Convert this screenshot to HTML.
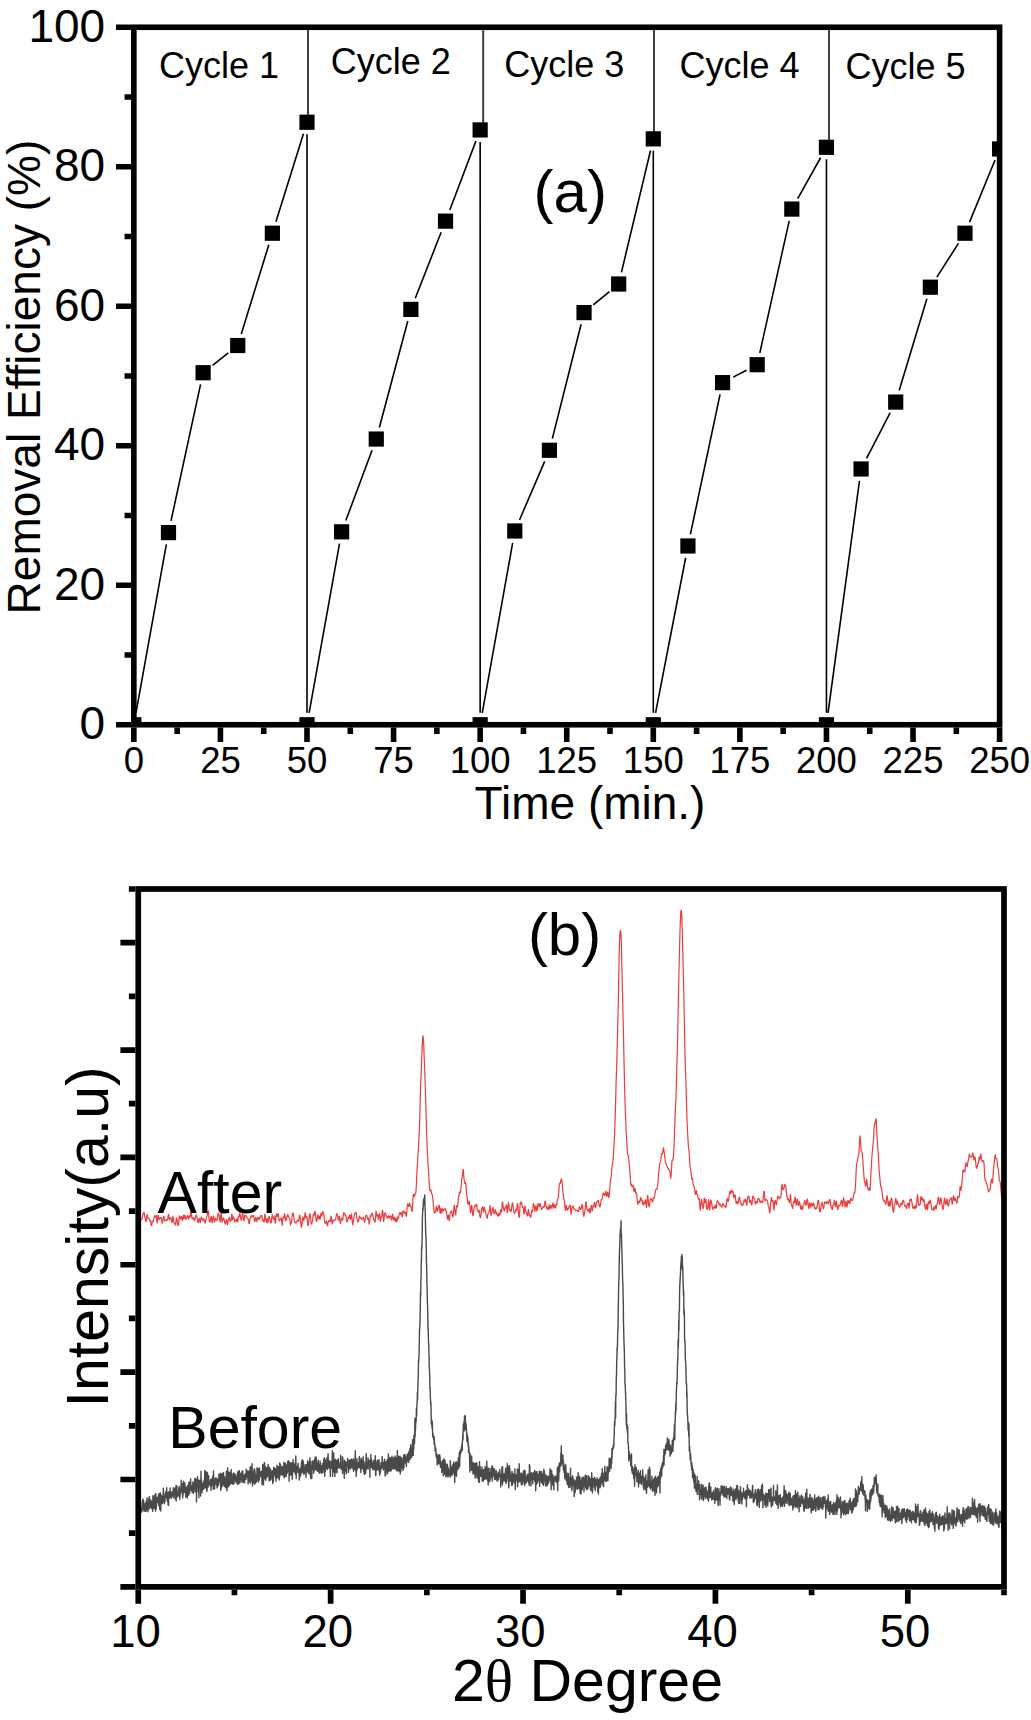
<!DOCTYPE html>
<html><head><meta charset="utf-8"><style>html,body{margin:0;padding:0;background:#fff;}svg{display:block;}</style></head>
<body>
<svg width="1031" height="1720" viewBox="0 0 1031 1720">
<rect width="100%" height="100%" fill="#fff"/>
<defs>
<clipPath id="ca"><rect x="133.85" y="27.25" width="865.75" height="697.5"/></clipPath>
<clipPath id="cb"><rect x="138.25" y="889.0" width="865.75" height="697.8499999999999"/></clipPath>
</defs>
<g clip-path="url(#ca)">
<line x1="308.0" y1="27.25" x2="308.0" y2="128.25" stroke="#404040" stroke-width="2"/>
<line x1="483.2" y1="27.25" x2="483.2" y2="135.92" stroke="#404040" stroke-width="2"/>
<line x1="654.0" y1="27.25" x2="654.0" y2="144.85" stroke="#404040" stroke-width="2"/>
<line x1="829.0" y1="27.25" x2="829.0" y2="153.29" stroke="#404040" stroke-width="2"/>
<path d="M135.98 712.94L166.35 544.40M171.02 520.86L200.57 384.45M212.55 365.31L228.30 352.93M241.28 334.05L268.83 244.69M275.94 221.77L303.43 133.70M307.00 134.25L307.00 712.75M309.12 712.94L339.51 543.63M345.83 520.58L372.06 450.30M379.36 427.46L407.79 320.98M415.27 298.22L441.14 232.33M449.78 209.94L475.89 141.14M480.15 141.92L480.15 712.75M482.26 712.94L512.67 542.80M519.51 519.96L544.68 461.31M552.34 438.65L581.11 324.23M593.29 304.96L609.42 291.64M621.45 272.33L650.52 150.52M653.30 150.85L653.30 712.75M655.58 712.97L685.65 557.76M690.42 534.24L720.07 394.37M733.22 377.11L746.53 370.22M759.80 352.99L789.21 220.80M797.69 198.62L820.58 157.76M826.45 159.29L826.45 712.75M828.06 712.86L859.47 480.87M866.60 458.32L890.19 412.74M899.17 390.60L926.88 298.70M936.82 277.11L958.49 243.32M969.53 222.12L995.04 160.06" stroke="#000" stroke-width="1.6" fill="none"/>
<rect x="126.25" y="717.15" width="15.2" height="15.2" fill="#000"/>
<rect x="160.88" y="524.99" width="15.2" height="15.2" fill="#000"/>
<rect x="195.51" y="365.12" width="15.2" height="15.2" fill="#000"/>
<rect x="230.14" y="337.92" width="15.2" height="15.2" fill="#000"/>
<rect x="264.77" y="225.62" width="15.2" height="15.2" fill="#000"/>
<rect x="299.40" y="114.65" width="15.2" height="15.2" fill="#000"/>
<rect x="299.40" y="717.15" width="15.2" height="15.2" fill="#000"/>
<rect x="334.03" y="524.22" width="15.2" height="15.2" fill="#000"/>
<rect x="368.66" y="431.45" width="15.2" height="15.2" fill="#000"/>
<rect x="403.29" y="301.79" width="15.2" height="15.2" fill="#000"/>
<rect x="437.92" y="213.55" width="15.2" height="15.2" fill="#000"/>
<rect x="472.55" y="122.32" width="15.2" height="15.2" fill="#000"/>
<rect x="472.55" y="717.15" width="15.2" height="15.2" fill="#000"/>
<rect x="507.18" y="523.38" width="15.2" height="15.2" fill="#000"/>
<rect x="541.81" y="442.68" width="15.2" height="15.2" fill="#000"/>
<rect x="576.44" y="305.00" width="15.2" height="15.2" fill="#000"/>
<rect x="611.07" y="276.40" width="15.2" height="15.2" fill="#000"/>
<rect x="645.70" y="131.25" width="15.2" height="15.2" fill="#000"/>
<rect x="645.70" y="717.15" width="15.2" height="15.2" fill="#000"/>
<rect x="680.33" y="538.38" width="15.2" height="15.2" fill="#000"/>
<rect x="714.96" y="375.03" width="15.2" height="15.2" fill="#000"/>
<rect x="749.59" y="357.10" width="15.2" height="15.2" fill="#000"/>
<rect x="784.22" y="201.49" width="15.2" height="15.2" fill="#000"/>
<rect x="818.85" y="139.69" width="15.2" height="15.2" fill="#000"/>
<rect x="818.85" y="717.15" width="15.2" height="15.2" fill="#000"/>
<rect x="853.48" y="461.38" width="15.2" height="15.2" fill="#000"/>
<rect x="888.11" y="394.49" width="15.2" height="15.2" fill="#000"/>
<rect x="922.74" y="279.61" width="15.2" height="15.2" fill="#000"/>
<rect x="957.37" y="225.62" width="15.2" height="15.2" fill="#000"/>
<rect x="992.00" y="141.36" width="15.2" height="15.2" fill="#000"/>
</g>
<rect x="133.85" y="27.25" width="865.75" height="697.50" fill="none" stroke="#000" stroke-width="5.6"/>
<path d="M116.05 724.75H131.05M124.55 655.00H131.05M116.05 585.25H131.05M124.55 515.50H131.05M116.05 445.75H131.05M124.55 376.00H131.05M116.05 306.25H131.05M124.55 236.50H131.05M116.05 166.75H131.05M124.55 97.00H131.05M116.05 27.25H131.05M133.85 727.55V742.05M177.14 727.55V734.05M220.43 727.55V742.05M263.71 727.55V734.05M307.00 727.55V742.05M350.29 727.55V734.05M393.58 727.55V742.05M436.86 727.55V734.05M480.15 727.55V742.05M523.44 727.55V734.05M566.73 727.55V742.05M610.01 727.55V734.05M653.30 727.55V742.05M696.59 727.55V734.05M739.88 727.55V742.05M783.16 727.55V734.05M826.45 727.55V742.05M869.74 727.55V734.05M913.02 727.55V742.05M956.31 727.55V734.05M999.60 727.55V742.05" stroke="#000" stroke-width="5.6" fill="none"/>
<text x="105.2" y="739.05" font-family="Liberation Sans, sans-serif" font-size="46" text-anchor="end">0</text>
<text x="105.2" y="599.55" font-family="Liberation Sans, sans-serif" font-size="46" text-anchor="end">20</text>
<text x="105.2" y="460.05" font-family="Liberation Sans, sans-serif" font-size="46" text-anchor="end">40</text>
<text x="105.2" y="320.55" font-family="Liberation Sans, sans-serif" font-size="46" text-anchor="end">60</text>
<text x="105.2" y="181.05" font-family="Liberation Sans, sans-serif" font-size="46" text-anchor="end">80</text>
<text x="105.2" y="41.55" font-family="Liberation Sans, sans-serif" font-size="46" text-anchor="end">100</text>
<text x="133.85" y="773" font-family="Liberation Sans, sans-serif" font-size="36.5" text-anchor="middle">0</text>
<text x="220.43" y="773" font-family="Liberation Sans, sans-serif" font-size="36.5" text-anchor="middle">25</text>
<text x="307.00" y="773" font-family="Liberation Sans, sans-serif" font-size="36.5" text-anchor="middle">50</text>
<text x="393.58" y="773" font-family="Liberation Sans, sans-serif" font-size="36.5" text-anchor="middle">75</text>
<text x="480.15" y="773" font-family="Liberation Sans, sans-serif" font-size="36.5" text-anchor="middle">100</text>
<text x="566.73" y="773" font-family="Liberation Sans, sans-serif" font-size="36.5" text-anchor="middle">125</text>
<text x="653.30" y="773" font-family="Liberation Sans, sans-serif" font-size="36.5" text-anchor="middle">150</text>
<text x="739.88" y="773" font-family="Liberation Sans, sans-serif" font-size="36.5" text-anchor="middle">175</text>
<text x="826.45" y="773" font-family="Liberation Sans, sans-serif" font-size="36.5" text-anchor="middle">200</text>
<text x="913.02" y="773" font-family="Liberation Sans, sans-serif" font-size="36.5" text-anchor="middle">225</text>
<text x="999.60" y="773" font-family="Liberation Sans, sans-serif" font-size="36.5" text-anchor="middle">250</text>
<text x="474.6" y="819.2" font-family="Liberation Sans, sans-serif" font-size="46">Time (min.)</text>
<text transform="translate(40,614.4) rotate(-90)" font-family="Liberation Sans, sans-serif" font-size="46">Removal Efficiency (%)</text>
<text x="159.1" y="77.7" font-family="Liberation Sans, sans-serif" font-size="36">Cycle 1</text>
<text x="330.8" y="73.7" font-family="Liberation Sans, sans-serif" font-size="36">Cycle 2</text>
<text x="504.3" y="76.9" font-family="Liberation Sans, sans-serif" font-size="36">Cycle 3</text>
<text x="679.6" y="77.6" font-family="Liberation Sans, sans-serif" font-size="36">Cycle 4</text>
<text x="845.6" y="78.5" font-family="Liberation Sans, sans-serif" font-size="36">Cycle 5</text>
<text x="533.6" y="212" font-family="Liberation Sans, sans-serif" font-size="60">(a)</text>
<g clip-path="url(#cb)">
<polyline points="138.2,1510.0 138.4,1516.0 138.6,1515.3 138.8,1507.3 139.0,1508.2 139.2,1507.0 139.4,1512.0 139.6,1509.0 139.8,1512.6 140.0,1500.6 140.2,1516.2 140.4,1508.4 140.6,1511.9 140.8,1508.1 140.9,1506.9 141.1,1510.7 141.3,1512.2 141.5,1507.4 141.7,1507.6 141.9,1511.3 142.1,1504.1 142.3,1501.0 142.5,1509.7 142.7,1504.7 142.9,1498.9 143.1,1503.9 143.3,1505.4 143.4,1502.0 143.6,1500.5 143.8,1507.4 144.0,1511.3 144.2,1506.0 144.4,1503.6 144.6,1508.7 144.8,1510.1 145.0,1505.3 145.2,1509.1 145.4,1511.3 145.6,1505.5 145.8,1502.6 145.9,1507.9 146.1,1507.3 146.3,1511.1 146.5,1500.1 146.7,1502.9 146.9,1502.0 147.1,1497.8 147.3,1506.2 147.5,1508.0 147.7,1502.1 147.9,1511.7 148.1,1509.1 148.3,1508.1 148.4,1507.0 148.6,1509.4 148.8,1498.8 149.0,1507.7 149.2,1507.5 149.4,1496.5 149.6,1506.2 149.8,1503.3 150.0,1508.0 150.2,1502.3 150.4,1504.1 150.6,1505.7 150.8,1500.0 150.9,1506.7 151.1,1503.4 151.3,1506.0 151.5,1501.3 151.7,1508.6 151.9,1506.3 152.1,1502.6 152.3,1506.2 152.5,1509.0 152.7,1511.4 152.9,1495.8 153.1,1507.0 153.3,1505.0 153.4,1502.3 153.6,1498.0 153.8,1508.4 154.0,1496.7 154.2,1505.0 154.4,1508.3 154.6,1494.9 154.8,1500.7 155.0,1496.0 155.2,1503.1 155.4,1508.8 155.6,1511.1 155.8,1493.5 155.9,1498.9 156.1,1504.7 156.3,1508.7 156.5,1503.3 156.7,1497.8 156.9,1502.5 157.1,1501.0 157.3,1500.0 157.5,1497.5 157.7,1502.6 157.9,1502.1 158.1,1500.2 158.3,1499.5 158.5,1494.5 158.6,1498.1 158.8,1505.8 159.0,1499.3 159.2,1493.4 159.4,1506.1 159.6,1502.3 159.8,1509.5 160.0,1500.0 160.2,1497.5 160.4,1492.9 160.6,1505.5 160.8,1511.1 161.0,1495.5 161.1,1496.2 161.3,1501.8 161.5,1495.2 161.7,1497.6 161.9,1497.2 162.1,1499.6 162.3,1503.6 162.5,1498.6 162.7,1502.7 162.9,1496.4 163.1,1499.8 163.3,1488.3 163.5,1491.4 163.6,1501.6 163.8,1495.2 164.0,1500.5 164.2,1500.2 164.4,1503.7 164.6,1501.3 164.8,1502.1 165.0,1496.8 165.2,1494.0 165.4,1493.8 165.6,1494.8 165.8,1491.8 166.0,1494.4 166.1,1496.4 166.3,1497.9 166.5,1495.1 166.7,1487.7 166.9,1496.1 167.1,1497.4 167.3,1501.3 167.5,1498.8 167.7,1493.1 167.9,1492.7 168.1,1505.1 168.3,1499.3 168.5,1504.1 168.6,1505.4 168.8,1491.8 169.0,1497.2 169.2,1497.5 169.4,1497.8 169.6,1497.7 169.8,1496.0 170.0,1495.8 170.2,1488.0 170.4,1494.1 170.6,1491.4 170.8,1495.3 171.0,1492.5 171.1,1497.4 171.3,1498.3 171.5,1495.9 171.7,1495.8 171.9,1494.7 172.1,1492.2 172.3,1493.4 172.5,1491.8 172.7,1495.8 172.9,1494.0 173.1,1496.5 173.3,1487.7 173.5,1497.8 173.6,1490.2 173.8,1490.2 174.0,1492.6 174.2,1490.9 174.4,1494.7 174.6,1490.7 174.8,1488.3 175.0,1489.3 175.2,1499.1 175.4,1493.2 175.6,1487.6 175.8,1492.9 176.0,1485.7 176.2,1501.0 176.3,1485.7 176.5,1494.8 176.7,1495.0 176.9,1485.8 177.1,1493.8 177.3,1496.9 177.5,1494.4 177.7,1493.4 177.9,1496.5 178.1,1492.8 178.3,1493.5 178.5,1491.3 178.7,1494.7 178.8,1487.4 179.0,1495.3 179.2,1489.3 179.4,1486.5 179.6,1493.2 179.8,1499.2 180.0,1495.8 180.2,1488.9 180.4,1494.4 180.6,1489.0 180.8,1490.5 181.0,1491.4 181.2,1480.3 181.3,1491.7 181.5,1486.0 181.7,1487.5 181.9,1483.9 182.1,1483.6 182.3,1486.2 182.5,1494.2 182.7,1498.0 182.9,1490.2 183.1,1495.2 183.3,1488.9 183.5,1481.3 183.7,1490.7 183.8,1492.0 184.0,1487.9 184.2,1491.2 184.4,1492.3 184.6,1485.7 184.8,1482.8 185.0,1488.5 185.2,1488.5 185.4,1487.7 185.6,1493.8 185.8,1497.2 186.0,1487.2 186.2,1492.3 186.3,1493.3 186.5,1492.2 186.7,1493.7 186.9,1487.0 187.1,1492.1 187.3,1498.0 187.5,1492.3 187.7,1485.7 187.9,1491.2 188.1,1494.2 188.3,1490.0 188.5,1485.6 188.7,1495.3 188.8,1482.3 189.0,1490.3 189.2,1487.9 189.4,1482.4 189.6,1493.4 189.8,1489.3 190.0,1482.3 190.2,1490.4 190.4,1485.5 190.6,1478.7 190.8,1484.2 191.0,1488.5 191.2,1490.2 191.3,1487.9 191.5,1487.3 191.7,1489.2 191.9,1486.0 192.1,1492.3 192.3,1487.5 192.5,1488.1 192.7,1489.2 192.9,1481.7 193.1,1483.3 193.3,1493.5 193.5,1487.9 193.7,1485.0 193.9,1487.8 194.0,1484.0 194.2,1487.4 194.4,1483.0 194.6,1487.2 194.8,1478.7 195.0,1491.9 195.2,1483.4 195.4,1478.4 195.6,1484.6 195.8,1483.8 196.0,1486.2 196.2,1480.1 196.4,1487.2 196.5,1501.9 196.7,1479.3 196.9,1486.7 197.1,1483.6 197.3,1485.9 197.5,1476.6 197.7,1479.6 197.9,1486.9 198.1,1484.5 198.3,1492.1 198.5,1481.3 198.7,1485.3 198.9,1497.8 199.0,1480.8 199.2,1480.1 199.4,1484.0 199.6,1483.9 199.8,1487.9 200.0,1484.6 200.2,1480.5 200.4,1484.9 200.6,1496.0 200.8,1489.7 201.0,1471.1 201.2,1483.2 201.4,1479.8 201.5,1486.6 201.7,1482.9 201.9,1492.6 202.1,1487.9 202.3,1487.7 202.5,1484.5 202.7,1483.4 202.9,1485.1 203.1,1489.5 203.3,1485.9 203.5,1481.8 203.7,1489.3 203.9,1484.3 204.0,1483.0 204.2,1479.7 204.4,1480.7 204.6,1480.3 204.8,1470.4 205.0,1487.9 205.2,1485.8 205.4,1482.2 205.6,1487.9 205.8,1485.1 206.0,1484.8 206.2,1471.6 206.4,1481.9 206.5,1485.4 206.7,1490.3 206.9,1491.4 207.1,1489.4 207.3,1477.5 207.5,1472.7 207.7,1485.4 207.9,1482.9 208.1,1487.1 208.3,1482.1 208.5,1483.7 208.7,1475.7 208.9,1484.6 209.0,1480.5 209.2,1484.1 209.4,1484.6 209.6,1481.9 209.8,1483.9 210.0,1482.3 210.2,1485.9 210.4,1484.6 210.6,1479.8 210.8,1479.6 211.0,1490.3 211.2,1481.7 211.4,1486.7 211.6,1484.0 211.7,1479.5 211.9,1478.7 212.1,1482.6 212.3,1483.2 212.5,1484.8 212.7,1476.1 212.9,1479.2 213.1,1481.5 213.3,1489.2 213.5,1471.0 213.7,1483.8 213.9,1479.3 214.1,1483.7 214.2,1479.5 214.4,1483.4 214.6,1488.9 214.8,1483.3 215.0,1483.6 215.2,1483.3 215.4,1478.1 215.6,1484.0 215.8,1480.5 216.0,1477.7 216.2,1481.2 216.4,1480.3 216.6,1484.8 216.7,1481.1 216.9,1478.9 217.1,1488.0 217.3,1485.8 217.5,1487.0 217.7,1484.0 217.9,1480.6 218.1,1479.2 218.3,1479.8 218.5,1485.4 218.7,1481.5 218.9,1474.2 219.1,1480.8 219.2,1474.4 219.4,1481.7 219.6,1475.3 219.8,1475.0 220.0,1481.3 220.2,1480.4 220.4,1473.1 220.6,1484.1 220.8,1490.6 221.0,1473.8 221.2,1489.0 221.4,1477.4 221.6,1478.3 221.7,1479.7 221.9,1473.9 222.1,1486.4 222.3,1482.7 222.5,1476.9 222.7,1479.1 222.9,1473.4 223.1,1478.7 223.3,1484.6 223.5,1472.4 223.7,1478.2 223.9,1480.9 224.1,1485.0 224.2,1486.3 224.4,1478.0 224.6,1476.7 224.8,1482.1 225.0,1478.3 225.2,1478.5 225.4,1484.9 225.6,1487.7 225.8,1481.1 226.0,1479.0 226.2,1482.4 226.4,1471.1 226.6,1479.7 226.7,1474.9 226.9,1490.7 227.1,1483.0 227.3,1480.3 227.5,1478.7 227.7,1468.0 227.9,1482.8 228.1,1487.0 228.3,1476.1 228.5,1482.6 228.7,1482.7 228.9,1472.3 229.1,1483.7 229.2,1485.6 229.4,1480.3 229.6,1479.0 229.8,1482.9 230.0,1472.1 230.2,1479.6 230.4,1484.0 230.6,1473.4 230.8,1483.6 231.0,1477.1 231.2,1469.5 231.4,1478.5 231.6,1474.5 231.8,1480.4 231.9,1473.5 232.1,1483.7 232.3,1475.4 232.5,1480.4 232.7,1476.0 232.9,1477.3 233.1,1484.2 233.3,1479.7 233.5,1476.8 233.7,1472.9 233.9,1483.9 234.1,1481.9 234.3,1477.0 234.4,1479.6 234.6,1473.7 234.8,1473.8 235.0,1474.6 235.2,1480.0 235.4,1479.7 235.6,1474.9 235.8,1481.7 236.0,1481.9 236.2,1479.0 236.4,1483.0 236.6,1476.8 236.8,1477.6 236.9,1480.3 237.1,1477.9 237.3,1481.7 237.5,1472.2 237.7,1484.5 237.9,1474.3 238.1,1477.2 238.3,1471.5 238.5,1480.6 238.7,1483.7 238.9,1482.7 239.1,1481.6 239.3,1470.6 239.4,1474.1 239.6,1475.5 239.8,1473.3 240.0,1482.8 240.2,1478.4 240.4,1477.4 240.6,1479.7 240.8,1473.1 241.0,1473.3 241.2,1473.4 241.4,1479.7 241.6,1478.9 241.8,1480.0 241.9,1482.2 242.1,1471.0 242.3,1474.7 242.5,1477.9 242.7,1471.0 242.9,1474.7 243.1,1481.8 243.3,1482.1 243.5,1482.0 243.7,1477.2 243.9,1476.0 244.1,1481.9 244.3,1475.2 244.4,1478.4 244.6,1483.0 244.8,1475.1 245.0,1474.0 245.2,1476.7 245.4,1479.5 245.6,1478.9 245.8,1477.4 246.0,1479.2 246.2,1469.3 246.4,1472.6 246.6,1477.3 246.8,1472.3 246.9,1470.3 247.1,1470.9 247.3,1472.2 247.5,1475.6 247.7,1471.7 247.9,1477.4 248.1,1484.1 248.3,1475.6 248.5,1482.1 248.7,1477.5 248.9,1471.0 249.1,1475.0 249.3,1471.6 249.5,1479.6 249.6,1470.8 249.8,1482.1 250.0,1478.7 250.2,1466.7 250.4,1479.5 250.6,1483.0 250.8,1472.2 251.0,1480.4 251.2,1467.5 251.4,1476.9 251.6,1468.1 251.8,1477.9 252.0,1467.5 252.1,1463.6 252.3,1477.4 252.5,1486.1 252.7,1472.8 252.9,1479.4 253.1,1476.0 253.3,1474.0 253.5,1478.3 253.7,1483.0 253.9,1469.7 254.1,1477.9 254.3,1476.9 254.5,1468.7 254.6,1482.7 254.8,1484.2 255.0,1470.8 255.2,1483.2 255.4,1475.4 255.6,1474.4 255.8,1482.0 256.0,1476.1 256.2,1476.5 256.4,1482.0 256.6,1480.9 256.8,1479.0 257.0,1468.5 257.1,1467.6 257.3,1480.0 257.5,1470.5 257.7,1475.5 257.9,1469.8 258.1,1473.9 258.3,1468.8 258.5,1482.1 258.7,1469.9 258.9,1474.0 259.1,1473.7 259.3,1480.1 259.5,1468.0 259.6,1474.3 259.8,1473.5 260.0,1476.8 260.2,1476.5 260.4,1472.2 260.6,1475.4 260.8,1472.6 261.0,1476.4 261.2,1473.7 261.4,1471.2 261.6,1474.0 261.8,1475.8 262.0,1484.5 262.1,1471.8 262.3,1475.4 262.5,1480.7 262.7,1464.4 262.9,1465.9 263.1,1468.4 263.3,1473.4 263.5,1485.1 263.7,1475.6 263.9,1479.3 264.1,1472.7 264.3,1462.4 264.5,1463.1 264.6,1478.3 264.8,1474.5 265.0,1467.6 265.2,1478.7 265.4,1466.5 265.6,1478.7 265.8,1480.2 266.0,1469.9 266.2,1468.3 266.4,1477.3 266.6,1468.3 266.8,1477.3 267.0,1467.8 267.2,1477.0 267.3,1473.7 267.5,1471.2 267.7,1469.1 267.9,1474.2 268.1,1464.4 268.3,1471.8 268.5,1471.2 268.7,1476.1 268.9,1467.2 269.1,1480.8 269.3,1471.5 269.5,1467.7 269.7,1479.2 269.8,1480.5 270.0,1471.9 270.2,1468.7 270.4,1472.8 270.6,1469.5 270.8,1471.3 271.0,1479.8 271.2,1474.4 271.4,1473.3 271.6,1474.2 271.8,1472.3 272.0,1476.4 272.2,1476.5 272.3,1470.7 272.5,1472.9 272.7,1483.5 272.9,1474.3 273.1,1471.5 273.3,1481.7 273.5,1472.3 273.7,1467.2 273.9,1475.3 274.1,1468.0 274.3,1469.8 274.5,1473.6 274.7,1471.5 274.8,1468.5 275.0,1469.5 275.2,1469.3 275.4,1477.3 275.6,1468.6 275.8,1469.3 276.0,1481.2 276.2,1469.3 276.4,1478.6 276.6,1477.8 276.8,1471.0 277.0,1465.2 277.2,1473.8 277.3,1474.7 277.5,1476.1 277.7,1471.9 277.9,1477.1 278.1,1477.9 278.3,1466.6 278.5,1478.0 278.7,1472.2 278.9,1468.8 279.1,1469.9 279.3,1480.0 279.5,1475.8 279.7,1463.0 279.8,1471.6 280.0,1470.6 280.2,1470.4 280.4,1468.8 280.6,1464.4 280.8,1475.0 281.0,1466.7 281.2,1469.3 281.4,1468.2 281.6,1467.6 281.8,1474.3 282.0,1472.7 282.2,1467.8 282.3,1466.5 282.5,1468.7 282.7,1475.2 282.9,1471.3 283.1,1471.8 283.3,1469.2 283.5,1469.5 283.7,1471.6 283.9,1462.1 284.1,1478.0 284.3,1466.9 284.5,1467.9 284.7,1476.6 284.9,1471.5 285.0,1470.6 285.2,1467.7 285.4,1463.2 285.6,1471.2 285.8,1475.8 286.0,1466.1 286.2,1476.5 286.4,1465.0 286.6,1466.8 286.8,1472.5 287.0,1470.1 287.2,1473.2 287.4,1466.6 287.5,1465.3 287.7,1461.4 287.9,1464.4 288.1,1465.0 288.3,1463.3 288.5,1471.3 288.7,1466.8 288.9,1460.7 289.1,1481.2 289.3,1465.9 289.5,1463.9 289.7,1475.4 289.9,1475.0 290.0,1464.3 290.2,1462.8 290.4,1464.9 290.6,1474.7 290.8,1468.0 291.0,1465.7 291.2,1469.3 291.4,1474.9 291.6,1463.0 291.8,1467.6 292.0,1462.9 292.2,1479.2 292.4,1477.6 292.5,1473.6 292.7,1468.6 292.9,1472.2 293.1,1459.4 293.3,1470.3 293.5,1462.9 293.7,1462.9 293.9,1465.7 294.1,1467.3 294.3,1471.6 294.5,1472.1 294.7,1470.1 294.9,1464.5 295.0,1471.9 295.2,1468.2 295.4,1474.2 295.6,1464.5 295.8,1456.0 296.0,1466.5 296.2,1478.5 296.4,1470.7 296.6,1467.7 296.8,1472.6 297.0,1470.8 297.2,1470.6 297.4,1466.1 297.5,1468.7 297.7,1469.3 297.9,1465.4 298.1,1463.2 298.3,1468.9 298.5,1472.7 298.7,1471.2 298.9,1470.4 299.1,1470.5 299.3,1480.0 299.5,1469.3 299.7,1472.8 299.9,1477.0 300.0,1468.2 300.2,1469.2 300.4,1472.8 300.6,1475.7 300.8,1469.4 301.0,1469.6 301.2,1468.3 301.4,1462.4 301.6,1473.0 301.8,1466.7 302.0,1460.0 302.2,1467.2 302.4,1459.9 302.6,1463.2 302.7,1467.9 302.9,1463.6 303.1,1472.7 303.3,1461.1 303.5,1469.0 303.7,1470.4 303.9,1474.5 304.1,1472.0 304.3,1468.8 304.5,1468.1 304.7,1467.5 304.9,1473.0 305.1,1464.7 305.2,1470.1 305.4,1467.3 305.6,1468.8 305.8,1466.5 306.0,1477.5 306.2,1464.6 306.4,1468.8 306.6,1468.9 306.8,1470.4 307.0,1469.7 307.2,1469.5 307.4,1472.1 307.6,1460.6 307.7,1467.6 307.9,1461.9 308.1,1468.6 308.3,1462.1 308.5,1463.1 308.7,1467.2 308.9,1473.9 309.1,1470.1 309.3,1468.8 309.5,1473.9 309.7,1463.1 309.9,1457.8 310.1,1465.5 310.2,1466.1 310.4,1473.1 310.6,1477.2 310.8,1461.2 311.0,1478.7 311.2,1474.5 311.4,1471.2 311.6,1469.0 311.8,1478.4 312.0,1467.6 312.2,1465.1 312.4,1467.9 312.6,1460.9 312.7,1469.4 312.9,1466.7 313.1,1468.7 313.3,1468.8 313.5,1462.3 313.7,1473.2 313.9,1462.5 314.1,1471.2 314.3,1459.8 314.5,1468.8 314.7,1463.3 314.9,1467.3 315.1,1464.1 315.2,1457.0 315.4,1461.9 315.6,1467.4 315.8,1469.9 316.0,1460.3 316.2,1457.2 316.4,1463.0 316.6,1466.0 316.8,1464.0 317.0,1463.2 317.2,1470.8 317.4,1471.4 317.6,1470.3 317.7,1462.6 317.9,1467.2 318.1,1466.0 318.3,1460.3 318.5,1470.9 318.7,1467.2 318.9,1464.6 319.1,1473.3 319.3,1470.3 319.5,1470.7 319.7,1472.3 319.9,1470.1 320.1,1460.9 320.2,1464.9 320.4,1471.3 320.6,1463.2 320.8,1466.9 321.0,1468.5 321.2,1473.3 321.4,1472.6 321.6,1470.8 321.8,1465.8 322.0,1470.8 322.2,1469.0 322.4,1465.8 322.6,1472.8 322.8,1468.8 322.9,1463.1 323.1,1472.3 323.3,1465.3 323.5,1469.2 323.7,1459.5 323.9,1466.4 324.1,1462.1 324.3,1462.0 324.5,1457.6 324.7,1476.3 324.9,1465.7 325.1,1467.5 325.3,1471.5 325.4,1465.8 325.6,1468.7 325.8,1460.1 326.0,1467.2 326.2,1464.4 326.4,1468.6 326.6,1467.1 326.8,1459.9 327.0,1457.7 327.2,1461.6 327.4,1469.6 327.6,1468.1 327.8,1468.0 327.9,1456.9 328.1,1453.8 328.3,1463.3 328.5,1464.6 328.7,1463.3 328.9,1467.7 329.1,1465.3 329.3,1460.6 329.5,1462.0 329.7,1466.7 329.9,1466.3 330.1,1465.7 330.3,1476.4 330.4,1464.8 330.6,1466.5 330.8,1461.4 331.0,1464.3 331.2,1468.3 331.4,1468.5 331.6,1465.2 331.8,1467.7 332.0,1466.1 332.2,1457.2 332.4,1450.8 332.6,1476.4 332.8,1469.6 332.9,1465.5 333.1,1457.8 333.3,1459.9 333.5,1472.0 333.7,1452.9 333.9,1464.2 334.1,1469.7 334.3,1466.3 334.5,1469.1 334.7,1465.0 334.9,1476.6 335.1,1460.9 335.3,1459.3 335.4,1466.9 335.6,1472.2 335.8,1465.3 336.0,1470.4 336.2,1463.1 336.4,1460.1 336.6,1471.9 336.8,1472.7 337.0,1472.5 337.2,1463.5 337.4,1460.1 337.6,1460.1 337.8,1464.4 337.9,1468.1 338.1,1467.7 338.3,1458.8 338.5,1466.3 338.7,1465.4 338.9,1465.8 339.1,1465.2 339.3,1464.4 339.5,1468.0 339.7,1465.9 339.9,1466.3 340.1,1462.1 340.3,1467.1 340.5,1464.7 340.6,1455.5 340.8,1467.4 341.0,1464.0 341.2,1469.4 341.4,1464.4 341.6,1464.7 341.8,1466.1 342.0,1465.1 342.2,1463.0 342.4,1456.8 342.6,1473.5 342.8,1457.8 343.0,1463.5 343.1,1468.0 343.3,1466.8 343.5,1467.6 343.7,1468.5 343.9,1470.8 344.1,1466.3 344.3,1478.3 344.5,1460.3 344.7,1466.0 344.9,1463.2 345.1,1462.4 345.3,1466.2 345.5,1471.6 345.6,1461.6 345.8,1461.6 346.0,1468.1 346.2,1467.3 346.4,1473.8 346.6,1469.5 346.8,1465.8 347.0,1463.2 347.2,1465.7 347.4,1463.9 347.6,1458.4 347.8,1464.7 348.0,1463.9 348.1,1463.6 348.3,1462.7 348.5,1472.4 348.7,1467.8 348.9,1468.9 349.1,1461.8 349.3,1459.9 349.5,1463.2 349.7,1465.6 349.9,1462.9 350.1,1463.6 350.3,1468.9 350.5,1465.9 350.6,1460.0 350.8,1462.6 351.0,1461.6 351.2,1465.4 351.4,1459.2 351.6,1463.8 351.8,1467.8 352.0,1464.8 352.2,1460.5 352.4,1461.9 352.6,1465.3 352.8,1466.9 353.0,1468.6 353.1,1464.1 353.3,1458.7 353.5,1471.3 353.7,1466.2 353.9,1466.7 354.1,1466.2 354.3,1460.1 354.5,1463.4 354.7,1466.0 354.9,1469.6 355.1,1465.2 355.3,1450.6 355.5,1463.8 355.6,1466.6 355.8,1470.9 356.0,1468.2 356.2,1476.4 356.4,1471.5 356.6,1471.2 356.8,1469.4 357.0,1458.7 357.2,1468.9 357.4,1467.8 357.6,1462.7 357.8,1467.8 358.0,1467.0 358.2,1463.0 358.3,1464.6 358.5,1463.9 358.7,1466.2 358.9,1463.2 359.1,1467.7 359.3,1456.4 359.5,1463.9 359.7,1457.5 359.9,1463.0 360.1,1467.6 360.3,1465.4 360.5,1464.8 360.7,1465.6 360.8,1472.5 361.0,1460.2 361.2,1469.4 361.4,1458.4 361.6,1463.2 361.8,1466.1 362.0,1461.5 362.2,1466.4 362.4,1468.8 362.6,1459.9 362.8,1465.1 363.0,1463.7 363.2,1456.6 363.3,1464.6 363.5,1461.8 363.7,1471.7 363.9,1461.5 364.1,1473.3 364.3,1463.1 364.5,1474.5 364.7,1468.1 364.9,1467.7 365.1,1469.3 365.3,1469.8 365.5,1472.1 365.7,1473.6 365.8,1464.0 366.0,1459.9 366.2,1453.4 366.4,1463.9 366.6,1469.2 366.8,1467.4 367.0,1466.2 367.2,1464.1 367.4,1462.8 367.6,1464.4 367.8,1467.5 368.0,1457.7 368.2,1469.1 368.3,1459.1 368.5,1465.1 368.7,1462.9 368.9,1464.1 369.1,1461.0 369.3,1460.5 369.5,1464.8 369.7,1460.9 369.9,1477.2 370.1,1463.9 370.3,1462.9 370.5,1463.4 370.7,1461.0 370.8,1454.6 371.0,1464.7 371.2,1467.3 371.4,1459.0 371.6,1466.0 371.8,1460.4 372.0,1465.8 372.2,1467.6 372.4,1468.2 372.6,1468.0 372.8,1462.7 373.0,1470.0 373.2,1463.9 373.3,1467.6 373.5,1469.3 373.7,1464.6 373.9,1460.1 374.1,1468.9 374.3,1460.9 374.5,1462.0 374.7,1461.0 374.9,1469.9 375.1,1465.3 375.3,1455.7 375.5,1469.5 375.7,1475.6 375.9,1474.4 376.0,1463.5 376.2,1466.5 376.4,1468.5 376.6,1470.2 376.8,1466.3 377.0,1461.1 377.2,1469.6 377.4,1469.0 377.6,1460.0 377.8,1464.5 378.0,1467.4 378.2,1466.1 378.4,1468.6 378.5,1469.8 378.7,1468.7 378.9,1465.6 379.1,1460.0 379.3,1469.0 379.5,1472.6 379.7,1475.3 379.9,1466.0 380.1,1466.0 380.3,1472.8 380.5,1472.8 380.7,1467.8 380.9,1469.5 381.0,1462.7 381.2,1468.9 381.4,1462.4 381.6,1465.5 381.8,1465.6 382.0,1464.0 382.2,1456.5 382.4,1462.4 382.6,1467.7 382.8,1465.9 383.0,1464.4 383.2,1468.2 383.4,1469.4 383.5,1470.1 383.7,1462.5 383.9,1466.3 384.1,1464.6 384.3,1462.1 384.5,1459.3 384.7,1465.7 384.9,1462.1 385.1,1476.1 385.3,1465.7 385.5,1465.1 385.7,1464.3 385.9,1474.8 386.0,1461.8 386.2,1465.4 386.4,1462.6 386.6,1465.5 386.8,1465.9 387.0,1471.1 387.2,1459.6 387.4,1466.0 387.6,1473.5 387.8,1463.7 388.0,1465.2 388.2,1462.0 388.4,1454.0 388.5,1465.5 388.7,1471.4 388.9,1463.8 389.1,1457.5 389.3,1467.2 389.5,1466.3 389.7,1470.5 389.9,1470.1 390.1,1464.7 390.3,1467.7 390.5,1457.6 390.7,1471.0 390.9,1466.7 391.0,1470.8 391.2,1470.7 391.4,1464.5 391.6,1465.1 391.8,1461.7 392.0,1456.2 392.2,1465.1 392.4,1466.4 392.6,1460.7 392.8,1468.9 393.0,1466.1 393.2,1467.7 393.4,1462.0 393.6,1457.4 393.7,1469.1 393.9,1468.3 394.1,1464.9 394.3,1463.5 394.5,1464.1 394.7,1464.7 394.9,1463.0 395.1,1456.0 395.3,1468.8 395.5,1458.3 395.7,1463.6 395.9,1463.7 396.1,1466.3 396.2,1457.6 396.4,1470.5 396.6,1468.0 396.8,1468.5 397.0,1470.7 397.2,1461.2 397.4,1450.4 397.6,1466.3 397.8,1470.7 398.0,1470.0 398.2,1462.1 398.4,1464.1 398.6,1465.8 398.7,1456.1 398.9,1461.3 399.1,1461.4 399.3,1471.5 399.5,1461.2 399.7,1471.3 399.9,1464.1 400.1,1456.2 400.3,1474.1 400.5,1459.4 400.7,1466.6 400.9,1471.6 401.1,1461.2 401.2,1457.9 401.4,1468.3 401.6,1463.7 401.8,1457.7 402.0,1458.3 402.2,1461.4 402.4,1467.5 402.6,1461.7 402.8,1465.9 403.0,1470.4 403.2,1468.5 403.4,1469.2 403.6,1468.1 403.7,1454.9 403.9,1467.8 404.1,1463.6 404.3,1461.4 404.5,1456.8 404.7,1454.4 404.9,1456.4 405.1,1461.3 405.3,1455.9 405.5,1457.3 405.7,1458.1 405.9,1463.8 406.1,1459.2 406.2,1459.7 406.4,1466.3 406.6,1458.5 406.8,1462.6 407.0,1454.7 407.2,1460.9 407.4,1459.7 407.6,1459.7 407.8,1456.5 408.0,1453.7 408.2,1456.8 408.4,1455.7 408.6,1462.4 408.7,1461.5 408.9,1451.5 409.1,1459.6 409.3,1454.1 409.5,1458.1 409.7,1453.4 409.9,1448.5 410.1,1459.5 410.3,1456.5 410.5,1448.4 410.7,1444.8 410.9,1450.6 411.1,1447.1 411.2,1450.3 411.4,1454.3 411.6,1457.6 411.8,1448.6 412.0,1455.9 412.2,1454.2 412.4,1446.1 412.6,1439.6 412.8,1450.3 413.0,1448.3 413.2,1455.4 413.4,1450.1 413.6,1446.0 413.8,1449.0 413.9,1435.2 414.1,1439.5 414.3,1435.9 414.5,1443.7 414.7,1436.6 414.9,1418.2 415.1,1436.6 415.3,1424.2 415.5,1429.7 415.7,1421.6 415.9,1422.5 416.1,1421.7 416.3,1416.8 416.4,1408.5 416.6,1416.2 416.8,1408.2 417.0,1402.7 417.2,1402.2 417.4,1392.4 417.6,1399.3 417.8,1387.1 418.0,1383.0 418.2,1377.9 418.4,1366.9 418.6,1360.2 418.8,1360.8 418.9,1355.4 419.1,1353.7 419.3,1343.2 419.5,1329.4 419.7,1329.8 419.9,1324.1 420.1,1317.6 420.3,1307.0 420.5,1292.2 420.7,1295.4 420.9,1278.9 421.1,1277.0 421.3,1259.3 421.4,1262.3 421.6,1247.5 421.8,1248.6 422.0,1244.6 422.2,1235.0 422.4,1217.8 422.6,1212.9 422.8,1207.9 423.0,1210.3 423.2,1204.9 423.4,1200.9 423.6,1199.3 423.8,1199.2 423.9,1199.1 424.1,1204.3 424.3,1197.7 424.5,1201.3 424.7,1195.0 424.9,1201.4 425.1,1209.1 425.3,1212.2 425.5,1224.6 425.7,1234.9 425.9,1235.0 426.1,1242.1 426.3,1249.5 426.4,1260.1 426.6,1264.9 426.8,1277.2 427.0,1284.6 427.2,1292.6 427.4,1302.4 427.6,1306.7 427.8,1314.8 428.0,1329.6 428.2,1328.5 428.4,1339.4 428.6,1342.7 428.8,1346.9 428.9,1353.2 429.1,1357.6 429.3,1367.3 429.5,1370.0 429.7,1376.2 429.9,1388.8 430.1,1387.4 430.3,1397.8 430.5,1398.1 430.7,1405.0 430.9,1402.1 431.1,1409.2 431.3,1424.1 431.5,1419.1 431.6,1423.0 431.8,1422.3 432.0,1427.9 432.2,1421.1 432.4,1424.9 432.6,1433.0 432.8,1436.9 433.0,1433.2 433.2,1436.1 433.4,1437.0 433.6,1439.4 433.8,1436.2 434.0,1436.5 434.1,1444.1 434.3,1437.7 434.5,1442.3 434.7,1444.9 434.9,1444.1 435.1,1451.0 435.3,1448.8 435.5,1451.3 435.7,1447.8 435.9,1449.8 436.1,1456.3 436.3,1456.3 436.5,1453.2 436.6,1457.6 436.8,1457.4 437.0,1457.8 437.2,1465.0 437.4,1456.3 437.6,1460.6 437.8,1461.1 438.0,1458.5 438.2,1454.7 438.4,1463.6 438.6,1462.0 438.8,1461.5 439.0,1461.7 439.1,1462.1 439.3,1458.2 439.5,1464.0 439.7,1454.7 439.9,1463.2 440.1,1456.7 440.3,1462.2 440.5,1467.4 440.7,1463.1 440.9,1462.3 441.1,1467.1 441.3,1463.7 441.5,1463.3 441.6,1463.6 441.8,1472.5 442.0,1468.8 442.2,1468.2 442.4,1460.7 442.6,1469.1 442.8,1460.5 443.0,1468.8 443.2,1461.6 443.4,1475.9 443.6,1459.3 443.8,1472.8 444.0,1471.0 444.1,1459.3 444.3,1466.5 444.5,1474.4 444.7,1473.1 444.9,1460.3 445.1,1465.7 445.3,1462.8 445.5,1463.5 445.7,1465.4 445.9,1476.9 446.1,1469.2 446.3,1467.6 446.5,1467.2 446.6,1471.9 446.8,1472.0 447.0,1464.7 447.2,1475.8 447.4,1464.1 447.6,1467.9 447.8,1471.3 448.0,1477.1 448.2,1467.7 448.4,1470.7 448.6,1475.4 448.8,1472.3 449.0,1474.7 449.2,1474.3 449.3,1470.8 449.5,1472.5 449.7,1473.9 449.9,1469.5 450.1,1477.0 450.3,1460.6 450.5,1465.5 450.7,1476.4 450.9,1471.7 451.1,1466.8 451.3,1471.5 451.5,1474.8 451.7,1467.2 451.8,1473.3 452.0,1469.2 452.2,1469.2 452.4,1469.4 452.6,1474.8 452.8,1464.5 453.0,1468.0 453.2,1472.7 453.4,1464.0 453.6,1462.3 453.8,1472.1 454.0,1469.4 454.2,1468.7 454.3,1470.0 454.5,1464.8 454.7,1482.5 454.9,1464.5 455.1,1467.0 455.3,1462.3 455.5,1466.8 455.7,1475.6 455.9,1468.5 456.1,1471.0 456.3,1465.9 456.5,1476.3 456.7,1468.5 456.8,1461.7 457.0,1470.8 457.2,1465.3 457.4,1469.4 457.6,1467.0 457.8,1467.2 458.0,1466.2 458.2,1461.0 458.4,1457.8 458.6,1468.6 458.8,1463.0 459.0,1464.3 459.2,1460.2 459.3,1452.3 459.5,1455.0 459.7,1466.4 459.9,1455.5 460.1,1456.4 460.3,1450.3 460.5,1453.5 460.7,1453.0 460.9,1452.5 461.1,1451.8 461.3,1447.8 461.5,1446.6 461.7,1447.6 461.8,1447.5 462.0,1443.6 462.2,1450.5 462.4,1441.7 462.6,1439.6 462.8,1434.0 463.0,1439.8 463.2,1428.5 463.4,1424.0 463.6,1425.2 463.8,1430.8 464.0,1421.2 464.2,1431.0 464.3,1423.8 464.5,1416.0 464.7,1421.2 464.9,1430.0 465.1,1417.7 465.3,1415.8 465.5,1424.6 465.7,1429.0 465.9,1428.7 466.1,1423.7 466.3,1427.5 466.5,1429.7 466.7,1435.3 466.9,1441.5 467.0,1433.0 467.2,1441.4 467.4,1435.8 467.6,1442.0 467.8,1436.8 468.0,1439.5 468.2,1446.7 468.4,1442.4 468.6,1452.3 468.8,1447.3 469.0,1451.7 469.2,1452.4 469.4,1452.6 469.5,1456.1 469.7,1461.7 469.9,1472.1 470.1,1453.5 470.3,1461.3 470.5,1460.1 470.7,1457.6 470.9,1463.9 471.1,1459.3 471.3,1463.7 471.5,1470.4 471.7,1456.0 471.9,1466.9 472.0,1468.4 472.2,1462.4 472.4,1469.6 472.6,1469.2 472.8,1466.4 473.0,1473.9 473.2,1462.6 473.4,1471.9 473.6,1468.1 473.8,1464.6 474.0,1468.9 474.2,1468.3 474.4,1473.9 474.5,1463.4 474.7,1469.6 474.9,1468.5 475.1,1478.0 475.3,1465.8 475.5,1475.9 475.7,1463.1 475.9,1472.9 476.1,1470.8 476.3,1473.3 476.5,1468.4 476.7,1462.8 476.9,1464.7 477.0,1478.0 477.2,1473.0 477.4,1468.1 477.6,1476.3 477.8,1468.8 478.0,1468.9 478.2,1466.8 478.4,1477.9 478.6,1481.6 478.8,1468.2 479.0,1474.0 479.2,1477.2 479.4,1482.5 479.5,1461.8 479.7,1473.5 479.9,1475.9 480.1,1466.2 480.3,1474.9 480.5,1474.0 480.7,1476.4 480.9,1470.5 481.1,1475.1 481.3,1470.4 481.5,1476.0 481.7,1474.0 481.9,1471.6 482.0,1466.9 482.2,1481.0 482.4,1478.5 482.6,1477.5 482.8,1470.4 483.0,1471.9 483.2,1481.2 483.4,1477.0 483.6,1469.7 483.8,1473.9 484.0,1474.3 484.2,1472.8 484.4,1469.4 484.5,1479.5 484.7,1476.5 484.9,1472.9 485.1,1466.6 485.3,1471.2 485.5,1473.9 485.7,1477.9 485.9,1472.2 486.1,1479.0 486.3,1474.6 486.5,1470.6 486.7,1461.2 486.9,1468.6 487.1,1467.2 487.2,1473.4 487.4,1475.6 487.6,1480.5 487.8,1474.1 488.0,1468.8 488.2,1485.0 488.4,1475.6 488.6,1473.0 488.8,1473.0 489.0,1468.0 489.2,1477.2 489.4,1476.0 489.6,1481.6 489.7,1479.4 489.9,1478.3 490.1,1480.1 490.3,1473.1 490.5,1472.3 490.7,1474.2 490.9,1468.7 491.1,1473.8 491.3,1472.9 491.5,1477.5 491.7,1474.4 491.9,1465.7 492.1,1474.6 492.2,1481.0 492.4,1466.1 492.6,1471.0 492.8,1474.6 493.0,1468.5 493.2,1472.0 493.4,1474.8 493.6,1468.5 493.8,1475.9 494.0,1476.5 494.2,1468.8 494.4,1474.8 494.6,1479.6 494.7,1473.8 494.9,1476.7 495.1,1477.6 495.3,1473.6 495.5,1479.2 495.7,1476.5 495.9,1470.2 496.1,1477.1 496.3,1478.7 496.5,1478.4 496.7,1471.8 496.9,1476.9 497.1,1481.1 497.2,1475.8 497.4,1480.2 497.6,1480.8 497.8,1474.6 498.0,1477.9 498.2,1473.5 498.4,1479.7 498.6,1474.4 498.8,1472.3 499.0,1474.7 499.2,1474.5 499.4,1476.6 499.6,1477.0 499.7,1469.5 499.9,1471.9 500.1,1476.6 500.3,1477.1 500.5,1475.3 500.7,1487.1 500.9,1480.1 501.1,1474.7 501.3,1478.4 501.5,1481.2 501.7,1476.8 501.9,1467.1 502.1,1475.6 502.2,1475.4 502.4,1485.0 502.6,1466.8 502.8,1482.4 503.0,1474.6 503.2,1479.6 503.4,1474.0 503.6,1476.2 503.8,1480.6 504.0,1475.8 504.2,1480.3 504.4,1475.1 504.6,1473.6 504.8,1474.5 504.9,1473.2 505.1,1475.0 505.3,1481.8 505.5,1470.2 505.7,1468.0 505.9,1475.6 506.1,1483.4 506.3,1480.5 506.5,1481.8 506.7,1481.5 506.9,1472.4 507.1,1476.3 507.3,1463.6 507.4,1473.0 507.6,1478.6 507.8,1468.7 508.0,1466.4 508.2,1469.9 508.4,1476.9 508.6,1481.3 508.8,1487.9 509.0,1482.6 509.2,1469.1 509.4,1465.4 509.6,1476.8 509.8,1481.0 509.9,1468.7 510.1,1473.8 510.3,1474.1 510.5,1476.4 510.7,1475.4 510.9,1478.7 511.1,1481.2 511.3,1476.7 511.5,1479.8 511.7,1485.5 511.9,1471.7 512.1,1471.6 512.3,1478.8 512.4,1485.0 512.6,1477.3 512.8,1481.6 513.0,1475.1 513.2,1480.8 513.4,1473.7 513.6,1479.7 513.8,1478.5 514.0,1478.5 514.2,1483.0 514.4,1481.6 514.6,1474.0 514.8,1480.9 514.9,1469.0 515.1,1481.4 515.3,1489.5 515.5,1479.3 515.7,1479.3 515.9,1477.2 516.1,1480.8 516.3,1474.9 516.5,1480.1 516.7,1475.8 516.9,1475.1 517.1,1477.7 517.3,1476.9 517.4,1469.2 517.6,1486.7 517.8,1477.9 518.0,1469.4 518.2,1482.2 518.4,1477.1 518.6,1478.2 518.8,1480.6 519.0,1473.2 519.2,1463.8 519.4,1476.9 519.6,1478.5 519.8,1482.0 519.9,1473.9 520.1,1476.2 520.3,1479.3 520.5,1476.0 520.7,1476.3 520.9,1478.7 521.1,1472.9 521.3,1484.8 521.5,1473.3 521.7,1477.7 521.9,1476.0 522.1,1474.3 522.3,1480.0 522.5,1482.2 522.6,1484.3 522.8,1480.3 523.0,1475.6 523.2,1481.6 523.4,1471.0 523.6,1477.9 523.8,1480.1 524.0,1480.3 524.2,1472.4 524.4,1470.8 524.6,1485.4 524.8,1475.4 525.0,1470.2 525.1,1472.0 525.3,1477.8 525.5,1483.2 525.7,1477.7 525.9,1483.3 526.1,1478.8 526.3,1479.9 526.5,1482.3 526.7,1476.1 526.9,1479.2 527.1,1476.0 527.3,1474.9 527.5,1480.8 527.6,1474.1 527.8,1478.2 528.0,1474.2 528.2,1477.4 528.4,1475.4 528.6,1482.9 528.8,1478.2 529.0,1478.2 529.2,1485.5 529.4,1464.6 529.6,1472.7 529.8,1465.3 530.0,1477.8 530.1,1479.9 530.3,1480.8 530.5,1479.1 530.7,1473.9 530.9,1485.9 531.1,1479.3 531.3,1476.7 531.5,1472.7 531.7,1479.8 531.9,1475.7 532.1,1475.8 532.3,1478.9 532.5,1478.9 532.6,1474.2 532.8,1483.7 533.0,1473.3 533.2,1472.8 533.4,1479.4 533.6,1478.6 533.8,1478.3 534.0,1476.1 534.2,1478.2 534.4,1475.4 534.6,1470.4 534.8,1481.4 535.0,1473.4 535.1,1477.0 535.3,1481.4 535.5,1478.2 535.7,1490.7 535.9,1471.6 536.1,1474.6 536.3,1478.5 536.5,1484.3 536.7,1477.0 536.9,1471.5 537.1,1483.4 537.3,1473.9 537.5,1477.2 537.6,1482.2 537.8,1475.1 538.0,1476.1 538.2,1480.4 538.4,1477.3 538.6,1479.5 538.8,1473.9 539.0,1477.7 539.2,1473.2 539.4,1471.1 539.6,1486.3 539.8,1480.3 540.0,1482.5 540.2,1473.8 540.3,1478.1 540.5,1477.3 540.7,1471.8 540.9,1480.8 541.1,1475.0 541.3,1477.4 541.5,1471.4 541.7,1482.9 541.9,1481.8 542.1,1480.2 542.3,1474.2 542.5,1475.9 542.7,1484.0 542.8,1477.1 543.0,1479.6 543.2,1479.1 543.4,1473.3 543.6,1485.4 543.8,1469.3 544.0,1479.5 544.2,1478.0 544.4,1471.0 544.6,1480.0 544.8,1480.9 545.0,1478.7 545.2,1474.7 545.3,1480.6 545.5,1483.6 545.7,1479.5 545.9,1486.4 546.1,1482.5 546.3,1482.1 546.5,1484.9 546.7,1475.5 546.9,1476.1 547.1,1480.9 547.3,1480.9 547.5,1485.5 547.7,1483.8 547.8,1479.4 548.0,1479.6 548.2,1477.3 548.4,1476.9 548.6,1476.5 548.8,1482.7 549.0,1476.4 549.2,1476.9 549.4,1479.3 549.6,1476.2 549.8,1477.5 550.0,1468.6 550.2,1480.3 550.3,1477.2 550.5,1479.5 550.7,1480.4 550.9,1470.2 551.1,1489.8 551.3,1479.5 551.5,1479.6 551.7,1470.7 551.9,1481.8 552.1,1480.8 552.3,1477.3 552.5,1480.2 552.7,1485.0 552.8,1477.6 553.0,1475.0 553.2,1485.3 553.4,1480.4 553.6,1478.4 553.8,1489.7 554.0,1479.9 554.2,1478.3 554.4,1480.3 554.6,1477.2 554.8,1480.0 555.0,1479.7 555.2,1475.9 555.3,1477.6 555.5,1480.2 555.7,1480.4 555.9,1481.2 556.1,1482.0 556.3,1479.4 556.5,1480.4 556.7,1476.1 556.9,1476.4 557.1,1482.1 557.3,1467.9 557.5,1478.3 557.7,1490.8 557.9,1467.2 558.0,1482.1 558.2,1466.5 558.4,1475.6 558.6,1480.7 558.8,1479.2 559.0,1467.3 559.2,1464.5 559.4,1462.9 559.6,1471.7 559.8,1465.4 560.0,1466.1 560.2,1466.0 560.4,1465.5 560.5,1464.8 560.7,1461.7 560.9,1452.7 561.1,1465.8 561.3,1445.7 561.5,1463.4 561.7,1454.5 561.9,1456.3 562.1,1455.0 562.3,1456.1 562.5,1458.3 562.7,1458.0 562.9,1455.3 563.0,1465.4 563.2,1460.0 563.4,1470.1 563.6,1464.5 563.8,1463.3 564.0,1469.7 564.2,1473.0 564.4,1465.8 564.6,1469.8 564.8,1478.7 565.0,1468.5 565.2,1470.0 565.4,1475.4 565.5,1469.8 565.7,1464.7 565.9,1468.9 566.1,1478.8 566.3,1480.6 566.5,1480.7 566.7,1480.1 566.9,1473.0 567.1,1482.1 567.3,1484.5 567.5,1476.2 567.7,1484.0 567.9,1478.2 568.0,1480.9 568.2,1481.9 568.4,1473.5 568.6,1487.2 568.8,1476.6 569.0,1480.2 569.2,1478.5 569.4,1483.0 569.6,1482.9 569.8,1481.1 570.0,1487.6 570.2,1482.5 570.4,1479.4 570.5,1468.1 570.7,1480.1 570.9,1480.1 571.1,1477.5 571.3,1477.6 571.5,1484.4 571.7,1486.5 571.9,1490.5 572.1,1487.1 572.3,1478.6 572.5,1483.1 572.7,1475.7 572.9,1485.4 573.0,1483.7 573.2,1479.3 573.4,1481.7 573.6,1481.0 573.8,1479.3 574.0,1488.3 574.2,1496.6 574.4,1486.1 574.6,1487.3 574.8,1483.2 575.0,1480.9 575.2,1492.6 575.4,1480.9 575.5,1484.4 575.7,1482.1 575.9,1485.4 576.1,1482.4 576.3,1485.4 576.5,1476.9 576.7,1482.3 576.9,1489.1 577.1,1478.1 577.3,1479.8 577.5,1489.2 577.7,1484.8 577.9,1487.8 578.1,1472.7 578.2,1483.7 578.4,1477.1 578.6,1476.6 578.8,1485.0 579.0,1488.5 579.2,1476.2 579.4,1478.0 579.6,1480.5 579.8,1482.6 580.0,1477.1 580.2,1493.6 580.4,1485.9 580.6,1481.6 580.7,1480.9 580.9,1494.0 581.1,1493.6 581.3,1481.1 581.5,1485.0 581.7,1489.2 581.9,1477.9 582.1,1480.7 582.3,1489.6 582.5,1480.2 582.7,1481.5 582.9,1477.2 583.1,1480.0 583.2,1486.6 583.4,1479.7 583.6,1477.5 583.8,1480.6 584.0,1491.7 584.2,1484.3 584.4,1481.0 584.6,1484.3 584.8,1485.6 585.0,1484.1 585.2,1475.2 585.4,1485.0 585.6,1482.6 585.7,1487.5 585.9,1477.4 586.1,1488.5 586.3,1481.3 586.5,1475.7 586.7,1489.8 586.9,1481.2 587.1,1485.4 587.3,1482.9 587.5,1488.7 587.7,1488.8 587.9,1488.8 588.1,1487.0 588.2,1476.2 588.4,1475.9 588.6,1484.6 588.8,1479.2 589.0,1485.8 589.2,1484.4 589.4,1477.1 589.6,1478.8 589.8,1478.4 590.0,1479.5 590.2,1482.7 590.4,1486.8 590.6,1489.8 590.7,1479.1 590.9,1481.0 591.1,1490.8 591.3,1487.8 591.5,1484.7 591.7,1472.7 591.9,1478.9 592.1,1484.3 592.3,1480.8 592.5,1492.8 592.7,1484.0 592.9,1484.8 593.1,1478.4 593.2,1478.6 593.4,1480.4 593.6,1480.5 593.8,1482.3 594.0,1485.1 594.2,1484.5 594.4,1488.0 594.6,1477.1 594.8,1484.3 595.0,1484.4 595.2,1490.6 595.4,1482.2 595.6,1484.7 595.8,1479.4 595.9,1485.1 596.1,1484.9 596.3,1480.1 596.5,1481.0 596.7,1482.8 596.9,1485.6 597.1,1477.6 597.3,1487.0 597.5,1481.3 597.7,1491.6 597.9,1489.5 598.1,1480.8 598.3,1479.7 598.4,1494.0 598.6,1485.4 598.8,1485.1 599.0,1480.4 599.2,1481.7 599.4,1486.0 599.6,1485.0 599.8,1478.2 600.0,1487.8 600.2,1483.3 600.4,1477.3 600.6,1486.3 600.8,1480.7 600.9,1485.0 601.1,1478.7 601.3,1482.8 601.5,1473.4 601.7,1482.6 601.9,1473.6 602.1,1481.3 602.3,1468.6 602.5,1479.9 602.7,1483.4 602.9,1482.1 603.1,1485.2 603.3,1474.5 603.4,1486.6 603.6,1486.6 603.8,1473.3 604.0,1475.0 604.2,1475.8 604.4,1478.2 604.6,1478.9 604.8,1466.3 605.0,1480.3 605.2,1476.1 605.4,1472.3 605.6,1481.2 605.8,1474.9 605.9,1481.5 606.1,1478.4 606.3,1474.1 606.5,1480.7 606.7,1478.6 606.9,1472.2 607.1,1466.7 607.3,1471.3 607.5,1476.3 607.7,1471.9 607.9,1480.7 608.1,1473.3 608.3,1472.6 608.4,1473.0 608.6,1466.6 608.8,1469.6 609.0,1466.5 609.2,1458.1 609.4,1460.2 609.6,1471.2 609.8,1465.0 610.0,1465.8 610.2,1458.8 610.4,1462.1 610.6,1467.7 610.8,1463.6 610.9,1459.8 611.1,1468.3 611.3,1459.9 611.5,1457.5 611.7,1463.2 611.9,1448.6 612.1,1457.9 612.3,1448.7 612.5,1448.7 612.7,1447.6 612.9,1449.6 613.1,1447.6 613.3,1446.5 613.5,1443.9 613.6,1447.1 613.8,1445.9 614.0,1438.7 614.2,1436.1 614.4,1427.7 614.6,1421.1 614.8,1425.4 615.0,1419.0 615.2,1418.8 615.4,1402.0 615.6,1418.2 615.8,1395.0 616.0,1395.8 616.1,1394.7 616.3,1377.8 616.5,1375.4 616.7,1362.1 616.9,1357.9 617.1,1348.3 617.3,1350.2 617.5,1343.2 617.7,1332.2 617.9,1331.0 618.1,1323.0 618.3,1307.7 618.5,1297.8 618.6,1288.6 618.8,1278.9 619.0,1278.4 619.2,1265.2 619.4,1254.7 619.6,1247.9 619.8,1245.0 620.0,1235.1 620.2,1234.0 620.4,1229.0 620.6,1233.5 620.8,1231.9 621.0,1220.6 621.1,1228.4 621.3,1235.8 621.5,1234.8 621.7,1246.2 621.9,1250.5 622.1,1258.9 622.3,1263.7 622.5,1273.7 622.7,1283.3 622.9,1282.9 623.1,1294.4 623.3,1302.8 623.5,1324.1 623.6,1326.4 623.8,1335.1 624.0,1342.4 624.2,1347.1 624.4,1353.6 624.6,1368.2 624.8,1369.4 625.0,1385.0 625.2,1384.8 625.4,1390.2 625.6,1394.3 625.8,1400.2 626.0,1405.6 626.1,1417.1 626.3,1425.2 626.5,1413.1 626.7,1423.4 626.9,1429.0 627.1,1424.9 627.3,1429.2 627.5,1432.9 627.7,1426.5 627.9,1443.1 628.1,1442.2 628.3,1444.1 628.5,1447.0 628.6,1449.6 628.8,1460.9 629.0,1452.6 629.2,1457.2 629.4,1452.3 629.6,1457.7 629.8,1455.8 630.0,1457.8 630.2,1455.4 630.4,1456.8 630.6,1463.6 630.8,1465.9 631.0,1465.4 631.2,1461.0 631.3,1466.3 631.5,1453.9 631.7,1470.6 631.9,1466.8 632.1,1468.8 632.3,1473.5 632.5,1466.8 632.7,1473.7 632.9,1467.7 633.1,1472.8 633.3,1468.9 633.5,1472.6 633.7,1478.3 633.8,1469.0 634.0,1469.6 634.2,1471.3 634.4,1474.5 634.6,1486.2 634.8,1471.2 635.0,1464.8 635.2,1471.5 635.4,1467.5 635.6,1472.5 635.8,1475.4 636.0,1471.2 636.2,1472.7 636.3,1467.5 636.5,1477.2 636.7,1473.1 636.9,1481.8 637.1,1481.8 637.3,1473.2 637.5,1475.7 637.7,1477.8 637.9,1481.2 638.1,1470.2 638.3,1477.7 638.5,1486.8 638.7,1478.0 638.8,1479.6 639.0,1478.7 639.2,1473.3 639.4,1483.3 639.6,1480.3 639.8,1480.0 640.0,1482.7 640.2,1483.1 640.4,1470.8 640.6,1481.9 640.8,1477.1 641.0,1480.6 641.2,1476.7 641.3,1476.1 641.5,1484.6 641.7,1480.2 641.9,1479.0 642.1,1479.1 642.3,1480.9 642.5,1480.5 642.7,1469.7 642.9,1476.7 643.1,1479.7 643.3,1484.3 643.5,1487.2 643.7,1476.7 643.8,1489.9 644.0,1481.5 644.2,1483.4 644.4,1478.7 644.6,1478.4 644.8,1487.9 645.0,1480.3 645.2,1480.9 645.4,1486.8 645.6,1489.5 645.8,1474.7 646.0,1480.8 646.2,1481.7 646.3,1490.2 646.5,1493.3 646.7,1481.7 646.9,1483.7 647.1,1486.1 647.3,1487.4 647.5,1480.7 647.7,1486.2 647.9,1479.1 648.1,1470.0 648.3,1476.0 648.5,1483.4 648.7,1486.1 648.9,1472.1 649.0,1474.2 649.2,1482.4 649.4,1467.1 649.6,1485.2 649.8,1487.4 650.0,1469.0 650.2,1486.3 650.4,1481.9 650.6,1489.3 650.8,1484.1 651.0,1481.7 651.2,1483.4 651.4,1487.2 651.5,1483.7 651.7,1483.0 651.9,1476.2 652.1,1485.1 652.3,1483.0 652.5,1491.3 652.7,1482.8 652.9,1482.4 653.1,1479.9 653.3,1486.1 653.5,1481.8 653.7,1479.5 653.9,1490.1 654.0,1490.8 654.2,1480.5 654.4,1477.8 654.6,1487.7 654.8,1478.6 655.0,1495.4 655.2,1481.7 655.4,1486.7 655.6,1476.2 655.8,1481.9 656.0,1487.0 656.2,1483.9 656.4,1479.3 656.5,1492.9 656.7,1484.9 656.9,1480.3 657.1,1478.4 657.3,1479.8 657.5,1487.1 657.7,1477.1 657.9,1480.6 658.1,1476.4 658.3,1485.7 658.5,1478.9 658.7,1483.4 658.9,1481.7 659.0,1476.1 659.2,1481.6 659.4,1482.3 659.6,1472.3 659.8,1480.4 660.0,1493.1 660.2,1474.8 660.4,1478.5 660.6,1468.8 660.8,1476.5 661.0,1471.0 661.2,1476.6 661.4,1472.0 661.5,1466.0 661.7,1475.7 661.9,1468.8 662.1,1464.1 662.3,1468.2 662.5,1462.4 662.7,1467.7 662.9,1464.5 663.1,1461.9 663.3,1465.5 663.5,1455.3 663.7,1464.5 663.9,1449.5 664.0,1465.0 664.2,1457.1 664.4,1453.8 664.6,1450.3 664.8,1455.0 665.0,1450.5 665.2,1449.2 665.4,1453.6 665.6,1445.7 665.8,1445.6 666.0,1447.8 666.2,1449.9 666.4,1443.5 666.5,1444.3 666.7,1443.3 666.9,1446.2 667.1,1449.4 667.3,1438.0 667.5,1441.8 667.7,1442.3 667.9,1445.5 668.1,1450.0 668.3,1443.4 668.5,1444.9 668.7,1449.7 668.9,1439.2 669.1,1442.0 669.2,1444.0 669.4,1446.6 669.6,1448.3 669.8,1445.3 670.0,1456.3 670.2,1445.3 670.4,1448.0 670.6,1454.3 670.8,1453.1 671.0,1449.6 671.2,1451.4 671.4,1453.5 671.6,1449.5 671.7,1452.3 671.9,1444.7 672.1,1448.9 672.3,1440.3 672.5,1443.1 672.7,1441.1 672.9,1451.3 673.1,1442.2 673.3,1444.5 673.5,1437.4 673.7,1439.3 673.9,1437.2 674.1,1432.6 674.2,1438.6 674.4,1424.6 674.6,1432.8 674.8,1439.7 675.0,1420.7 675.2,1421.7 675.4,1411.1 675.6,1414.8 675.8,1403.2 676.0,1410.4 676.2,1401.1 676.4,1390.5 676.6,1388.5 676.7,1382.5 676.9,1383.6 677.1,1383.8 677.3,1372.5 677.5,1363.3 677.7,1359.1 677.9,1357.6 678.1,1339.6 678.3,1347.4 678.5,1340.2 678.7,1320.3 678.9,1330.8 679.1,1311.0 679.2,1311.1 679.4,1311.2 679.6,1291.7 679.8,1284.6 680.0,1282.1 680.2,1276.8 680.4,1276.1 680.6,1269.7 680.8,1265.8 681.0,1262.5 681.2,1261.2 681.4,1256.1 681.6,1260.5 681.7,1258.7 681.9,1254.4 682.1,1269.0 682.3,1256.6 682.5,1268.9 682.7,1265.5 682.9,1274.8 683.1,1280.4 683.3,1287.2 683.5,1295.5 683.7,1290.9 683.9,1314.6 684.1,1309.6 684.2,1310.5 684.4,1314.6 684.6,1338.8 684.8,1342.2 685.0,1341.1 685.2,1351.3 685.4,1360.4 685.6,1361.0 685.8,1364.7 686.0,1372.5 686.2,1382.4 686.4,1384.1 686.6,1383.6 686.8,1398.1 686.9,1391.5 687.1,1400.8 687.3,1414.7 687.5,1414.3 687.7,1418.4 687.9,1421.8 688.1,1429.9 688.3,1428.3 688.5,1422.8 688.7,1436.3 688.9,1423.7 689.1,1431.3 689.3,1451.1 689.4,1451.1 689.6,1446.4 689.8,1450.5 690.0,1453.4 690.2,1459.7 690.4,1453.2 690.6,1454.5 690.8,1457.4 691.0,1462.6 691.2,1464.6 691.4,1463.0 691.6,1469.7 691.8,1462.6 691.9,1468.2 692.1,1466.4 692.3,1466.0 692.5,1477.5 692.7,1471.2 692.9,1468.9 693.1,1474.6 693.3,1470.6 693.5,1478.8 693.7,1480.8 693.9,1482.3 694.1,1473.2 694.3,1478.1 694.4,1488.1 694.6,1479.0 694.8,1486.5 695.0,1488.3 695.2,1475.1 695.4,1487.8 695.6,1486.2 695.8,1487.2 696.0,1491.5 696.2,1486.1 696.4,1484.8 696.6,1487.7 696.8,1483.6 696.9,1487.9 697.1,1476.5 697.3,1494.4 697.5,1484.2 697.7,1489.5 697.9,1488.8 698.1,1488.1 698.3,1488.5 698.5,1488.5 698.7,1480.8 698.9,1486.2 699.1,1494.7 699.3,1484.6 699.4,1484.7 699.6,1499.8 699.8,1495.8 700.0,1497.7 700.2,1490.5 700.4,1491.9 700.6,1494.4 700.8,1493.6 701.0,1490.7 701.2,1484.4 701.4,1487.9 701.6,1484.4 701.8,1499.0 701.9,1489.8 702.1,1491.0 702.3,1493.2 702.5,1492.1 702.7,1494.6 702.9,1489.3 703.1,1485.1 703.3,1500.6 703.5,1489.1 703.7,1490.3 703.9,1488.9 704.1,1490.1 704.3,1492.8 704.5,1496.3 704.6,1487.9 704.8,1494.3 705.0,1489.9 705.2,1498.7 705.4,1487.4 705.6,1493.6 705.8,1496.6 706.0,1486.9 706.2,1493.8 706.4,1494.1 706.6,1489.7 706.8,1492.5 707.0,1498.1 707.1,1494.7 707.3,1491.7 707.5,1492.6 707.7,1495.7 707.9,1499.6 708.1,1497.4 708.3,1497.2 708.5,1501.1 708.7,1486.6 708.9,1487.2 709.1,1483.3 709.3,1497.8 709.5,1483.3 709.6,1493.7 709.8,1497.4 710.0,1487.5 710.2,1490.9 710.4,1492.8 710.6,1497.4 710.8,1487.0 711.0,1495.5 711.2,1497.3 711.4,1494.7 711.6,1494.8 711.8,1499.9 712.0,1495.1 712.1,1494.0 712.3,1492.6 712.5,1497.1 712.7,1492.8 712.9,1497.2 713.1,1494.6 713.3,1499.4 713.5,1490.5 713.7,1494.5 713.9,1495.8 714.1,1496.1 714.3,1499.4 714.5,1496.0 714.6,1498.3 714.8,1503.2 715.0,1498.1 715.2,1489.3 715.4,1487.6 715.6,1497.3 715.8,1492.4 716.0,1495.5 716.2,1493.4 716.4,1500.2 716.6,1499.7 716.8,1488.9 717.0,1495.4 717.1,1492.7 717.3,1488.1 717.5,1497.1 717.7,1493.5 717.9,1496.1 718.1,1505.5 718.3,1500.2 718.5,1499.2 718.7,1492.2 718.9,1488.6 719.1,1499.8 719.3,1492.6 719.5,1494.2 719.6,1492.3 719.8,1494.5 720.0,1505.1 720.2,1492.5 720.4,1492.7 720.6,1494.9 720.8,1495.2 721.0,1488.4 721.2,1485.7 721.4,1491.2 721.6,1492.9 721.8,1490.2 722.0,1489.2 722.2,1489.5 722.3,1491.9 722.5,1493.2 722.7,1486.2 722.9,1491.2 723.1,1495.3 723.3,1493.1 723.5,1487.4 723.7,1492.0 723.9,1493.5 724.1,1497.1 724.3,1486.1 724.5,1496.6 724.7,1491.4 724.8,1494.4 725.0,1496.6 725.2,1489.4 725.4,1489.7 725.6,1492.8 725.8,1496.7 726.0,1490.8 726.2,1486.8 726.4,1490.1 726.6,1495.0 726.8,1498.5 727.0,1490.9 727.2,1491.7 727.3,1492.3 727.5,1492.5 727.7,1488.7 727.9,1491.0 728.1,1494.0 728.3,1493.5 728.5,1493.1 728.7,1488.4 728.9,1490.4 729.1,1489.6 729.3,1497.7 729.5,1499.5 729.7,1494.4 729.8,1500.1 730.0,1491.5 730.2,1491.5 730.4,1486.9 730.6,1494.0 730.8,1490.9 731.0,1493.4 731.2,1495.2 731.4,1491.9 731.6,1487.9 731.8,1492.9 732.0,1492.8 732.2,1493.3 732.3,1496.3 732.5,1492.3 732.7,1492.0 732.9,1501.2 733.1,1498.2 733.3,1493.0 733.5,1489.1 733.7,1491.4 733.9,1495.2 734.1,1497.3 734.3,1504.5 734.5,1492.5 734.7,1494.3 734.8,1492.0 735.0,1494.1 735.2,1492.0 735.4,1488.9 735.6,1498.4 735.8,1494.4 736.0,1499.7 736.2,1491.6 736.4,1495.1 736.6,1497.0 736.8,1485.5 737.0,1488.0 737.2,1497.5 737.3,1494.6 737.5,1485.8 737.7,1490.8 737.9,1489.4 738.1,1492.0 738.3,1501.3 738.5,1491.7 738.7,1503.5 738.9,1493.2 739.1,1491.0 739.3,1501.5 739.5,1498.8 739.7,1500.7 739.9,1503.3 740.0,1499.4 740.2,1500.1 740.4,1486.8 740.6,1490.9 740.8,1496.7 741.0,1495.6 741.2,1498.0 741.4,1492.6 741.6,1499.9 741.8,1504.0 742.0,1497.5 742.2,1498.7 742.4,1497.3 742.5,1499.2 742.7,1496.0 742.9,1492.8 743.1,1496.0 743.3,1495.6 743.5,1488.2 743.7,1496.2 743.9,1495.3 744.1,1496.2 744.3,1492.7 744.5,1497.5 744.7,1498.1 744.9,1492.1 745.0,1496.8 745.2,1498.9 745.4,1498.8 745.6,1491.2 745.8,1490.8 746.0,1495.5 746.2,1490.7 746.4,1506.8 746.6,1491.8 746.8,1491.8 747.0,1498.4 747.2,1493.3 747.4,1484.8 747.5,1494.8 747.7,1491.0 747.9,1493.1 748.1,1488.2 748.3,1491.4 748.5,1494.7 748.7,1495.1 748.9,1490.4 749.1,1492.2 749.3,1491.6 749.5,1496.1 749.7,1494.8 749.9,1489.9 750.0,1498.5 750.2,1492.4 750.4,1497.3 750.6,1491.4 750.8,1496.9 751.0,1495.1 751.2,1495.9 751.4,1497.9 751.6,1497.6 751.8,1496.4 752.0,1496.4 752.2,1490.0 752.4,1495.4 752.5,1485.8 752.7,1485.6 752.9,1494.4 753.1,1494.8 753.3,1502.6 753.5,1498.9 753.7,1500.9 753.9,1494.5 754.1,1498.0 754.3,1501.3 754.5,1498.4 754.7,1497.7 754.9,1496.5 755.0,1491.9 755.2,1492.1 755.4,1489.7 755.6,1498.1 755.8,1495.0 756.0,1493.2 756.2,1497.9 756.4,1493.7 756.6,1501.1 756.8,1505.0 757.0,1498.5 757.2,1493.3 757.4,1489.7 757.5,1505.6 757.7,1498.6 757.9,1491.2 758.1,1501.4 758.3,1489.0 758.5,1494.6 758.7,1495.5 758.9,1495.0 759.1,1491.5 759.3,1507.6 759.5,1494.9 759.7,1498.5 759.9,1496.9 760.1,1489.5 760.2,1494.3 760.4,1497.8 760.6,1501.1 760.8,1495.3 761.0,1498.6 761.2,1495.4 761.4,1499.6 761.6,1485.7 761.8,1499.7 762.0,1494.2 762.2,1494.4 762.4,1484.1 762.6,1492.2 762.7,1499.9 762.9,1507.7 763.1,1494.0 763.3,1494.2 763.5,1499.4 763.7,1498.5 763.9,1494.6 764.1,1496.5 764.3,1495.5 764.5,1500.1 764.7,1501.0 764.9,1505.4 765.1,1501.6 765.2,1500.5 765.4,1498.2 765.6,1501.7 765.8,1493.0 766.0,1507.4 766.2,1498.8 766.4,1504.0 766.6,1493.9 766.8,1502.3 767.0,1499.5 767.2,1496.8 767.4,1494.6 767.6,1493.7 767.7,1505.9 767.9,1503.3 768.1,1498.3 768.3,1498.7 768.5,1494.5 768.7,1489.4 768.9,1489.6 769.1,1495.1 769.3,1497.2 769.5,1492.5 769.7,1501.6 769.9,1500.3 770.1,1498.7 770.2,1489.9 770.4,1497.0 770.6,1497.9 770.8,1492.3 771.0,1488.0 771.2,1506.9 771.4,1501.0 771.6,1496.4 771.8,1505.5 772.0,1503.3 772.2,1500.2 772.4,1499.2 772.6,1501.8 772.7,1505.0 772.9,1498.6 773.1,1497.2 773.3,1501.0 773.5,1485.4 773.7,1498.8 773.9,1496.5 774.1,1498.3 774.3,1497.6 774.5,1500.0 774.7,1498.9 774.9,1498.8 775.1,1497.9 775.2,1500.6 775.4,1496.2 775.6,1503.1 775.8,1490.8 776.0,1499.5 776.2,1500.7 776.4,1492.8 776.6,1496.7 776.8,1504.8 777.0,1498.1 777.2,1494.7 777.4,1485.0 777.6,1500.3 777.8,1499.2 777.9,1501.6 778.1,1508.2 778.3,1498.8 778.5,1499.5 778.7,1495.7 778.9,1498.6 779.1,1498.8 779.3,1502.4 779.5,1501.5 779.7,1495.5 779.9,1496.8 780.1,1505.3 780.3,1494.6 780.4,1502.5 780.6,1506.6 780.8,1502.1 781.0,1500.3 781.2,1505.4 781.4,1500.8 781.6,1499.2 781.8,1498.3 782.0,1504.6 782.2,1502.5 782.4,1506.4 782.6,1497.8 782.8,1497.9 782.9,1497.4 783.1,1500.7 783.3,1496.3 783.5,1503.7 783.7,1501.1 783.9,1495.0 784.1,1485.9 784.3,1491.2 784.5,1506.2 784.7,1499.4 784.9,1500.3 785.1,1497.7 785.3,1501.5 785.4,1490.9 785.6,1490.6 785.8,1492.3 786.0,1500.1 786.2,1503.1 786.4,1502.1 786.6,1499.3 786.8,1494.0 787.0,1503.6 787.2,1498.7 787.4,1499.9 787.6,1499.7 787.8,1497.9 787.9,1496.8 788.1,1497.4 788.3,1494.2 788.5,1501.3 788.7,1499.4 788.9,1504.9 789.1,1491.9 789.3,1505.6 789.5,1500.0 789.7,1499.6 789.9,1496.6 790.1,1496.6 790.3,1493.5 790.4,1504.5 790.6,1499.5 790.8,1503.8 791.0,1504.3 791.2,1498.2 791.4,1499.5 791.6,1499.0 791.8,1505.3 792.0,1501.2 792.2,1501.4 792.4,1504.0 792.6,1500.4 792.8,1510.1 792.9,1496.5 793.1,1506.6 793.3,1507.3 793.5,1495.6 793.7,1504.8 793.9,1502.2 794.1,1504.9 794.3,1495.4 794.5,1502.1 794.7,1496.5 794.9,1499.5 795.1,1507.6 795.3,1500.5 795.5,1490.8 795.6,1494.7 795.8,1495.9 796.0,1505.9 796.2,1498.0 796.4,1494.1 796.6,1506.4 796.8,1502.4 797.0,1502.9 797.2,1497.7 797.4,1507.9 797.6,1500.8 797.8,1492.3 798.0,1496.2 798.1,1497.6 798.3,1500.8 798.5,1505.0 798.7,1498.2 798.9,1498.8 799.1,1511.7 799.3,1502.0 799.5,1499.2 799.7,1501.8 799.9,1495.9 800.1,1504.2 800.3,1506.2 800.5,1499.1 800.6,1506.4 800.8,1500.5 801.0,1503.2 801.2,1498.5 801.4,1498.2 801.6,1495.0 801.8,1503.0 802.0,1500.7 802.2,1500.8 802.4,1496.8 802.6,1496.7 802.8,1499.2 803.0,1504.3 803.1,1503.5 803.3,1499.0 803.5,1503.5 803.7,1510.3 803.9,1502.7 804.1,1511.6 804.3,1504.3 804.5,1508.4 804.7,1499.9 804.9,1507.8 805.1,1496.9 805.3,1503.5 805.5,1500.9 805.6,1493.3 805.8,1496.2 806.0,1507.7 806.2,1504.8 806.4,1508.5 806.6,1503.5 806.8,1489.3 807.0,1503.8 807.2,1500.0 807.4,1500.4 807.6,1500.6 807.8,1499.2 808.0,1498.3 808.1,1508.5 808.3,1504.9 808.5,1499.8 808.7,1500.9 808.9,1507.4 809.1,1504.7 809.3,1503.8 809.5,1497.3 809.7,1501.0 809.9,1497.8 810.1,1494.2 810.3,1507.2 810.5,1501.6 810.6,1501.2 810.8,1498.7 811.0,1506.6 811.2,1512.8 811.4,1505.9 811.6,1507.5 811.8,1497.5 812.0,1504.1 812.2,1504.3 812.4,1510.2 812.6,1503.4 812.8,1499.0 813.0,1503.1 813.2,1501.4 813.3,1510.1 813.5,1506.5 813.7,1505.0 813.9,1504.3 814.1,1507.4 814.3,1501.3 814.5,1499.4 814.7,1494.9 814.9,1509.1 815.1,1506.0 815.3,1506.6 815.5,1503.9 815.7,1511.3 815.8,1499.2 816.0,1509.3 816.2,1499.9 816.4,1501.7 816.6,1498.2 816.8,1504.3 817.0,1502.5 817.2,1505.9 817.4,1501.2 817.6,1497.5 817.8,1506.6 818.0,1509.9 818.2,1507.4 818.3,1503.8 818.5,1505.9 818.7,1496.2 818.9,1502.5 819.1,1509.4 819.3,1506.2 819.5,1500.2 819.7,1508.1 819.9,1503.6 820.1,1507.6 820.3,1497.8 820.5,1501.8 820.7,1505.8 820.8,1505.7 821.0,1506.9 821.2,1504.3 821.4,1503.5 821.6,1506.6 821.8,1508.4 822.0,1497.5 822.2,1503.0 822.4,1503.6 822.6,1505.2 822.8,1509.2 823.0,1498.5 823.2,1507.0 823.3,1496.7 823.5,1501.2 823.7,1502.3 823.9,1503.4 824.1,1501.9 824.3,1502.4 824.5,1503.2 824.7,1503.5 824.9,1496.4 825.1,1498.4 825.3,1502.8 825.5,1507.3 825.7,1509.5 825.8,1518.0 826.0,1505.4 826.2,1501.4 826.4,1505.8 826.6,1508.1 826.8,1505.7 827.0,1500.2 827.2,1504.6 827.4,1504.9 827.6,1498.7 827.8,1499.6 828.0,1510.7 828.2,1495.0 828.3,1506.0 828.5,1504.0 828.7,1511.6 828.9,1508.1 829.1,1501.4 829.3,1511.1 829.5,1502.8 829.7,1514.5 829.9,1513.0 830.1,1505.1 830.3,1509.0 830.5,1506.3 830.7,1501.4 830.8,1510.4 831.0,1507.5 831.2,1509.5 831.4,1510.5 831.6,1512.1 831.8,1510.4 832.0,1505.3 832.2,1506.2 832.4,1507.7 832.6,1505.3 832.8,1504.8 833.0,1514.4 833.2,1508.2 833.4,1514.6 833.5,1502.5 833.7,1505.8 833.9,1504.1 834.1,1504.3 834.3,1504.8 834.5,1505.6 834.7,1504.2 834.9,1514.4 835.1,1509.3 835.3,1502.9 835.5,1503.8 835.7,1509.7 835.9,1508.8 836.0,1503.6 836.2,1510.6 836.4,1499.9 836.6,1504.3 836.8,1514.3 837.0,1494.6 837.2,1505.6 837.4,1511.0 837.6,1505.9 837.8,1503.0 838.0,1502.6 838.2,1497.2 838.4,1500.6 838.5,1507.0 838.7,1504.1 838.9,1506.7 839.1,1506.1 839.3,1508.1 839.5,1499.2 839.7,1505.4 839.9,1505.3 840.1,1505.4 840.3,1502.8 840.5,1496.9 840.7,1509.8 840.9,1510.6 841.0,1517.7 841.2,1510.3 841.4,1514.5 841.6,1509.7 841.8,1505.3 842.0,1509.3 842.2,1501.8 842.4,1508.2 842.6,1506.6 842.8,1502.3 843.0,1512.7 843.2,1512.2 843.4,1509.3 843.5,1510.9 843.7,1514.7 843.9,1506.6 844.1,1501.1 844.3,1502.9 844.5,1510.4 844.7,1508.3 844.9,1500.5 845.1,1513.3 845.3,1508.3 845.5,1514.7 845.7,1512.5 845.9,1505.3 846.0,1507.8 846.2,1504.0 846.4,1503.5 846.6,1506.0 846.8,1509.6 847.0,1513.6 847.2,1503.3 847.4,1510.5 847.6,1507.5 847.8,1506.3 848.0,1512.5 848.2,1505.7 848.4,1513.6 848.5,1505.8 848.7,1503.1 848.9,1510.8 849.1,1500.6 849.3,1501.8 849.5,1506.4 849.7,1507.2 849.9,1505.9 850.1,1498.1 850.3,1500.9 850.5,1509.3 850.7,1509.4 850.9,1502.2 851.1,1508.0 851.2,1507.6 851.4,1511.2 851.6,1503.1 851.8,1513.0 852.0,1504.8 852.2,1512.7 852.4,1510.2 852.6,1501.2 852.8,1504.2 853.0,1506.7 853.2,1509.9 853.4,1498.7 853.6,1502.5 853.7,1507.3 853.9,1506.4 854.1,1499.1 854.3,1499.5 854.5,1505.2 854.7,1498.2 854.9,1503.6 855.1,1506.3 855.3,1501.8 855.5,1489.0 855.7,1506.2 855.9,1505.6 856.1,1506.3 856.2,1503.2 856.4,1491.0 856.6,1504.6 856.8,1499.1 857.0,1501.3 857.2,1495.6 857.4,1494.6 857.6,1493.9 857.8,1501.7 858.0,1494.9 858.2,1492.1 858.4,1486.4 858.6,1493.8 858.7,1491.0 858.9,1491.0 859.1,1494.2 859.3,1492.4 859.5,1488.6 859.7,1489.0 859.9,1488.0 860.1,1490.4 860.3,1490.0 860.5,1487.2 860.7,1482.4 860.9,1490.1 861.1,1490.3 861.2,1481.3 861.4,1488.1 861.6,1484.7 861.8,1476.8 862.0,1486.9 862.2,1491.9 862.4,1484.6 862.6,1485.2 862.8,1493.7 863.0,1484.5 863.2,1485.9 863.4,1489.4 863.6,1494.3 863.7,1495.0 863.9,1490.4 864.1,1492.0 864.3,1494.5 864.5,1493.0 864.7,1491.4 864.9,1491.0 865.1,1499.8 865.3,1496.1 865.5,1510.8 865.7,1501.1 865.9,1495.3 866.1,1499.2 866.2,1501.2 866.4,1501.8 866.6,1502.4 866.8,1502.8 867.0,1500.4 867.2,1504.3 867.4,1511.6 867.6,1499.7 867.8,1500.2 868.0,1505.3 868.2,1507.8 868.4,1505.9 868.6,1507.8 868.8,1501.9 868.9,1501.0 869.1,1505.0 869.3,1504.9 869.5,1509.3 869.7,1508.5 869.9,1492.7 870.1,1504.3 870.3,1497.3 870.5,1490.3 870.7,1501.3 870.9,1498.2 871.1,1496.9 871.3,1492.0 871.4,1492.6 871.6,1495.6 871.8,1489.0 872.0,1494.6 872.2,1494.9 872.4,1492.9 872.6,1494.1 872.8,1491.6 873.0,1485.7 873.2,1485.5 873.4,1490.0 873.6,1492.9 873.8,1488.4 873.9,1484.6 874.1,1486.9 874.3,1477.1 874.5,1480.2 874.7,1482.5 874.9,1483.5 875.1,1481.9 875.3,1481.9 875.5,1477.6 875.7,1480.4 875.9,1484.3 876.1,1474.9 876.3,1478.2 876.4,1482.6 876.6,1491.5 876.8,1488.5 877.0,1493.3 877.2,1493.1 877.4,1485.8 877.6,1488.4 877.8,1484.3 878.0,1496.0 878.2,1494.9 878.4,1495.3 878.6,1496.6 878.8,1496.6 878.9,1496.4 879.1,1497.6 879.3,1502.8 879.5,1494.5 879.7,1494.2 879.9,1499.8 880.1,1505.9 880.3,1502.4 880.5,1501.1 880.7,1506.6 880.9,1503.9 881.1,1495.3 881.3,1500.0 881.4,1495.5 881.6,1504.6 881.8,1504.1 882.0,1508.6 882.2,1516.7 882.4,1504.7 882.6,1507.8 882.8,1506.4 883.0,1495.5 883.2,1505.2 883.4,1505.7 883.6,1510.5 883.8,1505.7 883.9,1503.8 884.1,1512.6 884.3,1509.8 884.5,1506.2 884.7,1507.0 884.9,1509.3 885.1,1514.6 885.3,1517.5 885.5,1505.1 885.7,1516.5 885.9,1511.6 886.1,1513.1 886.3,1516.0 886.5,1507.2 886.6,1515.7 886.8,1505.9 887.0,1509.8 887.2,1508.1 887.4,1519.8 887.6,1519.7 887.8,1515.8 888.0,1514.7 888.2,1510.0 888.4,1520.5 888.6,1519.0 888.8,1516.8 889.0,1512.2 889.1,1511.2 889.3,1512.5 889.5,1519.0 889.7,1508.7 889.9,1513.6 890.1,1520.6 890.3,1517.2 890.5,1521.2 890.7,1515.2 890.9,1515.3 891.1,1519.7 891.3,1516.4 891.5,1515.1 891.6,1511.2 891.8,1506.8 892.0,1520.5 892.2,1511.8 892.4,1510.4 892.6,1517.8 892.8,1509.8 893.0,1507.7 893.2,1511.3 893.4,1513.7 893.6,1515.3 893.8,1516.4 894.0,1518.5 894.1,1513.6 894.3,1515.9 894.5,1513.7 894.7,1511.3 894.9,1516.1 895.1,1515.9 895.3,1522.8 895.5,1517.1 895.7,1511.3 895.9,1517.2 896.1,1513.4 896.3,1521.7 896.5,1506.8 896.6,1511.6 896.8,1511.6 897.0,1515.2 897.2,1514.1 897.4,1507.5 897.6,1506.3 897.8,1515.6 898.0,1521.5 898.2,1521.5 898.4,1513.1 898.6,1517.0 898.8,1511.0 899.0,1508.4 899.1,1520.6 899.3,1518.1 899.5,1513.6 899.7,1513.4 899.9,1519.3 900.1,1516.6 900.3,1513.7 900.5,1516.5 900.7,1515.2 900.9,1513.4 901.1,1512.1 901.3,1519.5 901.5,1513.2 901.6,1510.0 901.8,1523.6 902.0,1521.1 902.2,1517.8 902.4,1515.2 902.6,1516.4 902.8,1509.0 903.0,1515.5 903.2,1516.8 903.4,1514.7 903.6,1517.6 903.8,1512.2 904.0,1516.5 904.2,1508.6 904.3,1515.6 904.5,1513.0 904.7,1509.8 904.9,1514.0 905.1,1515.9 905.3,1513.1 905.5,1520.0 905.7,1512.7 905.9,1520.1 906.1,1519.2 906.3,1513.2 906.5,1522.4 906.7,1509.8 906.8,1518.4 907.0,1516.3 907.2,1519.5 907.4,1509.0 907.6,1510.7 907.8,1512.3 908.0,1516.2 908.2,1516.5 908.4,1516.2 908.6,1515.0 908.8,1513.0 909.0,1510.0 909.2,1514.3 909.3,1518.6 909.5,1520.8 909.7,1514.0 909.9,1521.1 910.1,1510.2 910.3,1519.8 910.5,1511.4 910.7,1517.4 910.9,1512.1 911.1,1512.0 911.3,1513.9 911.5,1522.8 911.7,1513.4 911.8,1519.3 912.0,1517.2 912.2,1517.9 912.4,1517.9 912.6,1519.4 912.8,1511.2 913.0,1516.8 913.2,1518.2 913.4,1514.0 913.6,1518.3 913.8,1512.1 914.0,1520.0 914.2,1513.6 914.3,1515.5 914.5,1520.3 914.7,1521.7 914.9,1514.3 915.1,1514.0 915.3,1521.3 915.5,1503.9 915.7,1522.9 915.9,1522.7 916.1,1512.2 916.3,1522.3 916.5,1518.6 916.7,1519.1 916.8,1506.6 917.0,1514.8 917.2,1516.2 917.4,1515.2 917.6,1515.4 917.8,1515.8 918.0,1504.3 918.2,1516.3 918.4,1514.1 918.6,1516.8 918.8,1515.0 919.0,1517.2 919.2,1518.5 919.3,1525.3 919.5,1513.6 919.7,1524.9 919.9,1516.3 920.1,1513.3 920.3,1510.9 920.5,1521.3 920.7,1510.6 920.9,1521.5 921.1,1519.0 921.3,1514.9 921.5,1514.5 921.7,1519.7 921.8,1518.2 922.0,1520.9 922.2,1517.6 922.4,1515.3 922.6,1520.0 922.8,1512.2 923.0,1521.5 923.2,1517.9 923.4,1512.7 923.6,1513.1 923.8,1516.3 924.0,1509.6 924.2,1524.0 924.4,1522.1 924.5,1512.9 924.7,1517.3 924.9,1525.5 925.1,1519.7 925.3,1513.3 925.5,1508.2 925.7,1510.5 925.9,1523.3 926.1,1519.4 926.3,1512.1 926.5,1521.2 926.7,1516.4 926.9,1515.0 927.0,1515.7 927.2,1516.0 927.4,1525.7 927.6,1513.8 927.8,1516.3 928.0,1524.2 928.2,1525.0 928.4,1513.7 928.6,1527.6 928.8,1523.2 929.0,1511.5 929.2,1526.5 929.4,1511.6 929.5,1521.4 929.7,1513.1 929.9,1510.3 930.1,1522.2 930.3,1520.3 930.5,1518.0 930.7,1519.3 930.9,1518.0 931.1,1517.3 931.3,1513.6 931.5,1521.2 931.7,1518.6 931.9,1517.4 932.0,1516.0 932.2,1517.3 932.4,1511.7 932.6,1517.2 932.8,1514.1 933.0,1524.5 933.2,1514.3 933.4,1516.6 933.6,1518.8 933.8,1522.3 934.0,1520.8 934.2,1518.8 934.4,1528.6 934.5,1518.7 934.7,1520.3 934.9,1531.3 935.1,1514.8 935.3,1523.3 935.5,1520.9 935.7,1512.9 935.9,1516.1 936.1,1522.7 936.3,1512.3 936.5,1518.1 936.7,1523.2 936.9,1517.9 937.0,1520.2 937.2,1516.0 937.4,1516.2 937.6,1516.3 937.8,1517.5 938.0,1522.0 938.2,1519.5 938.4,1528.1 938.6,1521.6 938.8,1520.4 939.0,1529.4 939.2,1518.7 939.4,1515.5 939.5,1519.9 939.7,1514.2 939.9,1521.6 940.1,1525.5 940.3,1522.2 940.5,1517.4 940.7,1518.6 940.9,1521.5 941.1,1524.7 941.3,1517.5 941.5,1517.4 941.7,1524.3 941.9,1520.4 942.1,1520.9 942.2,1521.6 942.4,1515.9 942.6,1518.7 942.8,1524.3 943.0,1518.7 943.2,1518.5 943.4,1520.8 943.6,1521.2 943.8,1531.1 944.0,1515.8 944.2,1520.1 944.4,1528.7 944.6,1519.7 944.7,1521.3 944.9,1512.9 945.1,1524.0 945.3,1523.5 945.5,1523.3 945.7,1518.7 945.9,1521.3 946.1,1519.3 946.3,1523.5 946.5,1519.5 946.7,1523.2 946.9,1513.5 947.1,1518.1 947.2,1506.6 947.4,1518.9 947.6,1523.1 947.8,1518.4 948.0,1530.3 948.2,1515.0 948.4,1518.0 948.6,1515.4 948.8,1517.3 949.0,1517.4 949.2,1512.8 949.4,1515.1 949.6,1528.8 949.7,1518.3 949.9,1523.7 950.1,1513.7 950.3,1519.0 950.5,1521.9 950.7,1518.6 950.9,1517.1 951.1,1518.5 951.3,1519.5 951.5,1523.1 951.7,1524.8 951.9,1513.2 952.1,1509.8 952.2,1518.3 952.4,1519.1 952.6,1522.4 952.8,1523.9 953.0,1516.0 953.2,1528.4 953.4,1520.1 953.6,1510.8 953.8,1523.2 954.0,1520.1 954.2,1520.1 954.4,1511.4 954.6,1517.3 954.7,1519.3 954.9,1517.9 955.1,1521.7 955.3,1524.2 955.5,1525.4 955.7,1524.1 955.9,1517.6 956.1,1526.1 956.3,1519.4 956.5,1522.1 956.7,1517.0 956.9,1511.7 957.1,1507.6 957.2,1518.8 957.4,1514.8 957.6,1517.8 957.8,1521.8 958.0,1510.7 958.2,1509.6 958.4,1518.7 958.6,1519.2 958.8,1516.2 959.0,1515.0 959.2,1510.0 959.4,1516.8 959.6,1513.7 959.8,1519.0 959.9,1521.3 960.1,1514.4 960.3,1518.7 960.5,1517.6 960.7,1519.9 960.9,1523.6 961.1,1519.6 961.3,1519.7 961.5,1520.0 961.7,1514.4 961.9,1516.2 962.1,1517.7 962.3,1521.7 962.4,1521.9 962.6,1526.3 962.8,1510.8 963.0,1515.5 963.2,1507.8 963.4,1513.1 963.6,1508.0 963.8,1520.7 964.0,1518.8 964.2,1510.3 964.4,1516.7 964.6,1518.4 964.8,1522.9 964.9,1518.7 965.1,1515.4 965.3,1514.3 965.5,1517.5 965.7,1515.9 965.9,1512.2 966.1,1508.8 966.3,1519.1 966.5,1510.9 966.7,1512.8 966.9,1517.6 967.1,1513.6 967.3,1519.0 967.4,1508.6 967.6,1517.1 967.8,1507.5 968.0,1506.6 968.2,1508.6 968.4,1513.8 968.6,1510.1 968.8,1506.8 969.0,1518.5 969.2,1508.6 969.4,1512.3 969.6,1513.9 969.8,1510.5 969.9,1514.3 970.1,1515.4 970.3,1512.0 970.5,1517.2 970.7,1509.6 970.9,1507.4 971.1,1513.1 971.3,1507.7 971.5,1513.8 971.7,1511.5 971.9,1509.8 972.1,1514.5 972.3,1514.2 972.4,1498.2 972.6,1510.2 972.8,1512.3 973.0,1513.8 973.2,1509.0 973.4,1506.2 973.6,1512.0 973.8,1514.5 974.0,1501.9 974.2,1504.4 974.4,1508.6 974.6,1499.4 974.8,1508.4 974.9,1514.9 975.1,1506.3 975.3,1511.7 975.5,1507.0 975.7,1513.0 975.9,1514.0 976.1,1517.0 976.3,1511.4 976.5,1515.8 976.7,1512.8 976.9,1508.8 977.1,1517.7 977.3,1508.3 977.5,1511.8 977.6,1522.2 977.8,1515.0 978.0,1507.3 978.2,1512.4 978.4,1508.5 978.6,1510.4 978.8,1504.2 979.0,1512.2 979.2,1504.1 979.4,1512.9 979.6,1513.0 979.8,1515.2 980.0,1521.5 980.1,1503.8 980.3,1505.9 980.5,1506.9 980.7,1508.9 980.9,1515.6 981.1,1510.1 981.3,1509.0 981.5,1506.6 981.7,1508.9 981.9,1509.8 982.1,1511.4 982.3,1505.4 982.5,1511.7 982.6,1514.7 982.8,1513.8 983.0,1506.5 983.2,1516.1 983.4,1516.1 983.6,1513.9 983.8,1506.9 984.0,1505.9 984.2,1512.9 984.4,1508.1 984.6,1506.8 984.8,1517.1 985.0,1517.3 985.1,1516.1 985.3,1519.3 985.5,1517.5 985.7,1508.1 985.9,1518.8 986.1,1514.2 986.3,1515.7 986.5,1521.0 986.7,1515.9 986.9,1521.2 987.1,1514.3 987.3,1512.4 987.5,1511.0 987.6,1513.7 987.8,1506.7 988.0,1514.2 988.2,1514.1 988.4,1512.3 988.6,1504.5 988.8,1505.0 989.0,1518.2 989.2,1510.7 989.4,1521.5 989.6,1512.0 989.8,1517.0 990.0,1508.8 990.1,1512.6 990.3,1514.6 990.5,1518.4 990.7,1523.5 990.9,1520.3 991.1,1509.3 991.3,1516.1 991.5,1515.4 991.7,1513.3 991.9,1519.0 992.1,1523.7 992.3,1514.4 992.5,1521.7 992.6,1523.1 992.8,1511.9 993.0,1525.0 993.2,1524.7 993.4,1518.4 993.6,1524.9 993.8,1518.3 994.0,1522.5 994.2,1520.3 994.4,1513.4 994.6,1518.7 994.8,1516.8 995.0,1515.3 995.2,1512.4 995.3,1514.2 995.5,1512.2 995.7,1523.1 995.9,1508.9 996.1,1518.4 996.3,1515.3 996.5,1512.4 996.7,1521.6 996.9,1514.6 997.1,1523.9 997.3,1517.6 997.5,1520.0 997.7,1517.9 997.8,1521.6 998.0,1523.0 998.2,1516.6 998.4,1518.7 998.6,1526.9 998.8,1516.2 999.0,1527.3 999.2,1517.2 999.4,1516.5 999.6,1511.3 999.8,1515.2 1000.0,1511.2 1000.2,1516.6 1000.3,1522.5 1000.5,1519.0 1000.7,1516.6 1000.9,1514.7 1001.1,1516.3 1001.3,1512.8 1001.5,1513.7 1001.7,1528.5 1001.9,1520.7 1002.1,1515.4 1002.3,1522.8 1002.5,1526.6 1002.7,1516.8 1002.8,1519.3 1003.0,1514.1 1003.2,1512.5 1003.4,1526.2 1003.6,1535.7 1003.8,1516.6 1004.0,1512.5" fill="none" stroke="#4a4a4a" stroke-width="1.4" stroke-linejoin="round"/>
<polyline points="138.2,1223.5 138.6,1224.2 139.0,1223.6 139.4,1222.7 139.8,1220.6 140.2,1220.2 140.6,1220.4 140.9,1219.6 141.3,1219.3 141.7,1219.2 142.1,1218.9 142.5,1216.7 142.9,1213.8 143.3,1213.6 143.6,1212.7 144.0,1212.4 144.4,1213.9 144.8,1217.1 145.2,1218.2 145.6,1219.4 145.9,1221.7 146.3,1220.8 146.7,1216.7 147.1,1214.3 147.5,1216.5 147.9,1217.8 148.3,1218.3 148.6,1218.7 149.0,1218.1 149.4,1219.1 149.8,1220.8 150.2,1220.7 150.6,1220.6 150.9,1223.6 151.3,1225.7 151.7,1225.1 152.1,1222.1 152.5,1221.2 152.9,1221.9 153.3,1221.3 153.6,1219.6 154.0,1217.9 154.4,1216.5 154.8,1215.7 155.2,1216.4 155.6,1217.4 155.9,1216.1 156.3,1215.5 156.7,1219.4 157.1,1223.2 157.5,1221.0 157.9,1215.3 158.3,1215.3 158.6,1218.6 159.0,1219.6 159.4,1218.9 159.8,1218.1 160.2,1217.5 160.6,1217.5 161.0,1218.4 161.3,1217.7 161.7,1219.7 162.1,1223.1 162.5,1223.2 162.9,1220.4 163.3,1217.9 163.6,1216.3 164.0,1216.6 164.4,1218.8 164.8,1220.8 165.2,1220.3 165.6,1220.5 166.0,1220.7 166.3,1220.2 166.7,1219.7 167.1,1220.3 167.5,1219.9 167.9,1217.9 168.3,1214.9 168.6,1214.2 169.0,1218.0 169.4,1219.9 169.8,1218.6 170.2,1217.8 170.6,1217.7 171.0,1217.9 171.3,1220.3 171.7,1222.5 172.1,1222.5 172.5,1219.8 172.9,1216.4 173.3,1217.3 173.6,1219.6 174.0,1222.6 174.4,1223.7 174.8,1223.3 175.2,1223.9 175.6,1225.0 176.0,1221.3 176.3,1218.0 176.7,1218.1 177.1,1219.4 177.5,1223.4 177.9,1225.5 178.3,1225.6 178.7,1223.5 179.0,1219.5 179.4,1215.9 179.8,1216.3 180.2,1218.6 180.6,1219.1 181.0,1218.3 181.3,1216.6 181.7,1216.8 182.1,1219.2 182.5,1220.3 182.9,1218.0 183.3,1215.1 183.7,1215.9 184.0,1218.9 184.4,1216.8 184.8,1215.1 185.2,1216.4 185.6,1218.6 186.0,1218.8 186.3,1219.3 186.7,1218.3 187.1,1216.4 187.5,1215.8 187.9,1215.7 188.3,1217.6 188.7,1219.1 189.0,1217.7 189.4,1215.8 189.8,1216.1 190.2,1216.9 190.6,1215.1 191.0,1211.2 191.3,1211.8 191.7,1216.2 192.1,1218.4 192.5,1218.8 192.9,1218.6 193.3,1217.9 193.7,1217.7 194.0,1219.1 194.4,1220.5 194.8,1219.9 195.2,1217.9 195.6,1216.1 196.0,1215.7 196.4,1214.8 196.7,1215.6 197.1,1218.0 197.5,1220.6 197.9,1222.7 198.3,1222.7 198.7,1220.8 199.0,1218.6 199.4,1218.4 199.8,1220.4 200.2,1222.6 200.6,1220.7 201.0,1217.5 201.4,1217.2 201.7,1218.9 202.1,1218.5 202.5,1219.2 202.9,1220.3 203.3,1220.3 203.7,1218.7 204.0,1219.3 204.4,1220.9 204.8,1222.8 205.2,1223.0 205.6,1220.9 206.0,1219.4 206.4,1218.4 206.7,1216.3 207.1,1215.5 207.5,1213.8 207.9,1211.6 208.3,1210.8 208.7,1213.5 209.0,1218.9 209.4,1221.7 209.8,1221.8 210.2,1221.3 210.6,1219.1 211.0,1216.6 211.4,1216.7 211.7,1220.3 212.1,1222.7 212.5,1221.7 212.9,1217.9 213.3,1215.8 213.7,1216.6 214.1,1220.5 214.4,1222.1 214.8,1221.2 215.2,1219.2 215.6,1218.3 216.0,1218.9 216.4,1220.1 216.7,1219.9 217.1,1220.3 217.5,1218.4 217.9,1214.7 218.3,1212.9 218.7,1214.0 219.1,1215.4 219.4,1216.6 219.8,1220.1 220.2,1221.9 220.6,1218.6 221.0,1212.9 221.4,1212.7 221.7,1218.8 222.1,1222.2 222.5,1220.8 222.9,1219.3 223.3,1218.1 223.7,1218.2 224.1,1219.6 224.4,1220.4 224.8,1222.7 225.2,1224.2 225.6,1223.3 226.0,1222.0 226.4,1219.5 226.7,1220.6 227.1,1223.2 227.5,1224.9 227.9,1221.9 228.3,1219.6 228.7,1219.4 229.1,1217.5 229.4,1217.6 229.8,1218.9 230.2,1221.2 230.6,1221.4 231.0,1220.6 231.4,1217.5 231.8,1214.0 232.1,1214.7 232.5,1219.4 232.9,1219.3 233.3,1216.9 233.7,1217.3 234.1,1218.9 234.4,1219.6 234.8,1221.8 235.2,1220.8 235.6,1220.2 236.0,1221.1 236.4,1219.8 236.8,1218.6 237.1,1220.6 237.5,1222.0 237.9,1220.6 238.3,1216.9 238.7,1215.9 239.1,1216.9 239.4,1214.9 239.8,1212.6 240.2,1214.7 240.6,1218.0 241.0,1219.3 241.4,1220.2 241.8,1218.3 242.1,1215.6 242.5,1213.3 242.9,1214.4 243.3,1217.4 243.7,1220.1 244.1,1220.6 244.4,1218.6 244.8,1215.1 245.2,1215.4 245.6,1216.1 246.0,1215.7 246.4,1216.1 246.8,1217.0 247.1,1218.3 247.5,1218.6 247.9,1218.7 248.3,1219.1 248.7,1221.8 249.1,1223.6 249.5,1223.5 249.8,1220.4 250.2,1218.0 250.6,1217.2 251.0,1216.1 251.4,1215.6 251.8,1216.7 252.1,1217.1 252.5,1216.2 252.9,1215.5 253.3,1215.3 253.7,1216.2 254.1,1217.8 254.5,1221.2 254.8,1221.6 255.2,1220.0 255.6,1217.6 256.0,1218.3 256.4,1220.1 256.8,1221.6 257.1,1220.2 257.5,1217.5 257.9,1217.8 258.3,1218.1 258.7,1219.7 259.1,1218.5 259.5,1217.3 259.8,1218.4 260.2,1217.7 260.6,1215.8 261.0,1215.7 261.4,1216.2 261.8,1215.3 262.1,1217.2 262.5,1220.4 262.9,1219.9 263.3,1220.1 263.7,1221.7 264.1,1222.1 264.5,1218.6 264.8,1214.0 265.2,1215.7 265.6,1219.5 266.0,1221.1 266.4,1222.3 266.8,1220.1 267.2,1218.3 267.5,1221.0 267.9,1223.0 268.3,1220.6 268.7,1218.3 269.1,1216.4 269.5,1216.6 269.8,1218.7 270.2,1220.5 270.6,1221.5 271.0,1223.0 271.4,1222.7 271.8,1217.2 272.2,1214.5 272.5,1216.8 272.9,1217.9 273.3,1218.0 273.7,1219.4 274.1,1217.2 274.5,1215.9 274.8,1219.3 275.2,1223.2 275.6,1222.8 276.0,1216.8 276.4,1213.8 276.8,1215.1 277.2,1216.5 277.5,1216.3 277.9,1214.4 278.3,1213.6 278.7,1216.5 279.1,1220.2 279.5,1220.8 279.8,1219.5 280.2,1219.8 280.6,1219.5 281.0,1217.9 281.4,1218.5 281.8,1222.3 282.2,1225.3 282.5,1221.9 282.9,1217.5 283.3,1216.8 283.7,1217.8 284.1,1217.2 284.5,1213.8 284.9,1214.8 285.2,1219.1 285.6,1220.9 286.0,1220.3 286.4,1219.0 286.8,1216.8 287.2,1216.0 287.5,1214.5 287.9,1214.7 288.3,1216.5 288.7,1216.9 289.1,1217.5 289.5,1218.3 289.9,1218.8 290.2,1222.2 290.6,1224.8 291.0,1223.5 291.4,1222.3 291.8,1219.7 292.2,1215.3 292.5,1213.3 292.9,1213.4 293.3,1213.4 293.7,1216.4 294.1,1219.6 294.5,1221.5 294.9,1222.5 295.2,1222.9 295.6,1222.3 296.0,1223.1 296.4,1222.7 296.8,1221.5 297.2,1220.6 297.5,1220.4 297.9,1219.9 298.3,1221.3 298.7,1221.1 299.1,1217.5 299.5,1215.0 299.9,1215.6 300.2,1218.2 300.6,1221.4 301.0,1224.8 301.4,1227.3 301.8,1226.1 302.2,1221.6 302.6,1217.5 302.9,1216.9 303.3,1219.7 303.7,1220.4 304.1,1219.0 304.5,1217.2 304.9,1214.5 305.2,1212.5 305.6,1215.4 306.0,1218.1 306.4,1217.5 306.8,1216.5 307.2,1218.7 307.6,1222.7 307.9,1225.6 308.3,1225.0 308.7,1221.9 309.1,1217.9 309.5,1214.6 309.9,1213.8 310.2,1214.6 310.6,1218.4 311.0,1222.6 311.4,1224.2 311.8,1223.3 312.2,1221.9 312.6,1220.5 312.9,1216.8 313.3,1214.3 313.7,1215.6 314.1,1215.7 314.5,1213.1 314.9,1211.3 315.2,1211.3 315.6,1215.4 316.0,1219.7 316.4,1220.8 316.8,1221.5 317.2,1219.3 317.6,1215.5 317.9,1214.8 318.3,1218.2 318.7,1218.5 319.1,1216.2 319.5,1217.2 319.9,1219.3 320.2,1218.3 320.6,1215.9 321.0,1213.3 321.4,1214.5 321.8,1216.2 322.2,1214.0 322.6,1211.7 322.9,1211.7 323.3,1213.0 323.7,1213.9 324.1,1217.4 324.5,1221.4 324.9,1223.1 325.3,1222.7 325.6,1223.3 326.0,1222.1 326.4,1220.8 326.8,1222.5 327.2,1225.4 327.6,1225.7 327.9,1223.3 328.3,1221.3 328.7,1221.1 329.1,1220.7 329.5,1220.7 329.9,1221.8 330.3,1221.7 330.6,1217.9 331.0,1216.1 331.4,1217.1 331.8,1221.2 332.2,1223.9 332.6,1223.3 332.9,1220.4 333.3,1219.9 333.7,1220.8 334.1,1220.6 334.5,1220.2 334.9,1219.9 335.3,1219.6 335.6,1218.9 336.0,1217.3 336.4,1214.6 336.8,1213.7 337.2,1213.9 337.6,1215.4 337.9,1217.4 338.3,1220.1 338.7,1220.0 339.1,1216.6 339.5,1216.3 339.9,1220.1 340.3,1223.5 340.6,1223.2 341.0,1221.0 341.4,1218.8 341.8,1218.3 342.2,1219.5 342.6,1220.1 343.0,1218.3 343.3,1214.9 343.7,1212.5 344.1,1213.0 344.5,1214.2 344.9,1214.8 345.3,1215.3 345.6,1214.8 346.0,1216.6 346.4,1219.6 346.8,1221.6 347.2,1221.8 347.6,1220.8 348.0,1218.1 348.3,1217.4 348.7,1218.3 349.1,1216.7 349.5,1215.0 349.9,1215.5 350.3,1219.3 350.6,1219.3 351.0,1215.6 351.4,1213.8 351.8,1217.0 352.2,1221.0 352.6,1224.3 353.0,1224.8 353.3,1221.5 353.7,1218.3 354.1,1216.6 354.5,1214.8 354.9,1213.1 355.3,1213.3 355.6,1213.4 356.0,1212.4 356.4,1214.2 356.8,1218.0 357.2,1219.4 357.6,1221.2 358.0,1222.0 358.3,1221.2 358.7,1220.0 359.1,1217.6 359.5,1216.0 359.9,1216.7 360.3,1218.0 360.7,1218.4 361.0,1218.2 361.4,1218.7 361.8,1219.6 362.2,1218.6 362.6,1218.0 363.0,1218.0 363.3,1217.2 363.7,1218.9 364.1,1221.6 364.5,1222.0 364.9,1221.2 365.3,1218.4 365.7,1216.2 366.0,1215.5 366.4,1215.2 366.8,1215.5 367.2,1217.1 367.6,1219.2 368.0,1218.9 368.3,1217.9 368.7,1220.0 369.1,1224.1 369.5,1222.8 369.9,1219.6 370.3,1215.8 370.7,1215.7 371.0,1216.7 371.4,1214.5 371.8,1213.1 372.2,1213.9 372.6,1214.5 373.0,1215.8 373.3,1218.0 373.7,1219.5 374.1,1219.5 374.5,1220.5 374.9,1222.4 375.3,1221.0 375.7,1215.4 376.0,1211.2 376.4,1212.8 376.8,1216.1 377.2,1215.4 377.6,1214.5 378.0,1216.5 378.4,1219.3 378.7,1217.9 379.1,1214.7 379.5,1213.6 379.9,1216.5 380.3,1221.2 380.7,1219.9 381.0,1217.5 381.4,1216.9 381.8,1216.3 382.2,1212.4 382.6,1210.0 383.0,1213.1 383.4,1218.8 383.7,1221.6 384.1,1218.2 384.5,1214.4 384.9,1213.1 385.3,1212.7 385.7,1213.5 386.0,1215.3 386.4,1216.3 386.8,1216.7 387.2,1218.0 387.6,1217.4 388.0,1216.2 388.4,1215.9 388.7,1217.3 389.1,1218.2 389.5,1217.6 389.9,1216.1 390.3,1216.0 390.7,1215.9 391.0,1217.5 391.4,1219.9 391.8,1219.9 392.2,1216.0 392.6,1214.0 393.0,1216.3 393.4,1219.2 393.7,1219.9 394.1,1219.6 394.5,1217.4 394.9,1219.8 395.3,1221.5 395.7,1220.0 396.1,1218.2 396.4,1220.4 396.8,1221.9 397.2,1220.4 397.6,1217.4 398.0,1217.1 398.4,1218.5 398.7,1217.2 399.1,1214.3 399.5,1212.8 399.9,1212.7 400.3,1212.8 400.7,1214.1 401.1,1213.4 401.4,1212.4 401.8,1215.1 402.2,1217.1 402.6,1214.4 403.0,1210.9 403.4,1211.1 403.7,1212.1 404.1,1211.0 404.5,1212.1 404.9,1213.9 405.3,1212.8 405.7,1212.6 406.1,1215.3 406.4,1216.5 406.8,1212.3 407.2,1206.5 407.6,1203.9 408.0,1204.1 408.4,1204.6 408.7,1206.7 409.1,1206.2 409.5,1203.0 409.9,1204.0 410.3,1205.9 410.7,1206.1 411.1,1206.9 411.4,1208.8 411.8,1211.2 412.2,1211.2 412.6,1205.2 413.0,1198.0 413.4,1194.2 413.8,1194.2 414.1,1196.4 414.5,1196.4 414.9,1194.9 415.3,1193.7 415.7,1193.1 416.1,1189.9 416.4,1183.5 416.8,1175.1 417.2,1167.5 417.6,1160.7 418.0,1155.2 418.4,1148.7 418.8,1140.5 419.1,1134.2 419.5,1127.1 419.9,1113.0 420.3,1096.5 420.7,1083.9 421.1,1074.8 421.4,1065.6 421.8,1055.2 422.2,1046.4 422.6,1039.0 423.0,1035.7 423.4,1039.3 423.8,1046.5 424.1,1056.1 424.5,1064.5 424.9,1074.6 425.3,1086.7 425.7,1100.2 426.1,1113.7 426.4,1126.0 426.8,1138.1 427.2,1148.2 427.6,1156.8 428.0,1163.4 428.4,1170.3 428.8,1175.8 429.1,1181.2 429.5,1188.0 429.9,1190.9 430.3,1190.2 430.7,1189.6 431.1,1190.9 431.5,1192.8 431.8,1194.0 432.2,1194.4 432.6,1196.6 433.0,1200.5 433.4,1205.5 433.8,1209.0 434.1,1211.9 434.5,1213.3 434.9,1212.5 435.3,1212.1 435.7,1210.1 436.1,1207.6 436.5,1206.2 436.8,1208.5 437.2,1211.5 437.6,1210.8 438.0,1208.6 438.4,1207.2 438.8,1205.8 439.1,1205.2 439.5,1207.1 439.9,1211.9 440.3,1213.3 440.7,1210.2 441.1,1208.1 441.5,1210.7 441.8,1212.9 442.2,1209.9 442.6,1208.6 443.0,1209.9 443.4,1211.0 443.8,1209.8 444.1,1209.7 444.5,1209.0 444.9,1208.6 445.3,1209.0 445.7,1210.6 446.1,1210.9 446.5,1212.0 446.8,1215.2 447.2,1218.0 447.6,1219.4 448.0,1217.0 448.4,1215.1 448.8,1217.2 449.2,1220.7 449.5,1218.9 449.9,1214.5 450.3,1212.4 450.7,1212.0 451.1,1212.0 451.5,1210.8 451.8,1211.1 452.2,1214.0 452.6,1216.7 453.0,1216.7 453.4,1214.0 453.8,1209.0 454.2,1205.1 454.5,1206.7 454.9,1210.1 455.3,1213.7 455.7,1215.0 456.1,1211.2 456.5,1206.1 456.8,1205.7 457.2,1207.0 457.6,1206.8 458.0,1202.8 458.4,1197.9 458.8,1196.0 459.2,1194.5 459.5,1192.1 459.9,1192.2 460.3,1192.7 460.7,1191.5 461.1,1186.7 461.5,1181.7 461.8,1178.9 462.2,1177.4 462.6,1174.3 463.0,1169.3 463.4,1169.7 463.8,1176.5 464.2,1179.9 464.5,1181.8 464.9,1183.7 465.3,1182.3 465.7,1183.0 466.1,1187.3 466.5,1192.3 466.9,1195.6 467.2,1198.9 467.6,1201.8 468.0,1204.4 468.4,1203.5 468.8,1201.0 469.2,1201.4 469.5,1202.7 469.9,1205.9 470.3,1210.2 470.7,1212.6 471.1,1209.0 471.5,1205.3 471.9,1206.1 472.2,1209.2 472.6,1214.0 473.0,1215.9 473.4,1214.5 473.8,1210.3 474.2,1207.7 474.5,1207.1 474.9,1205.5 475.3,1205.2 475.7,1206.1 476.1,1205.9 476.5,1204.1 476.9,1205.4 477.2,1209.9 477.6,1210.8 478.0,1211.2 478.4,1212.3 478.8,1211.7 479.2,1210.2 479.5,1211.9 479.9,1216.1 480.3,1217.9 480.7,1216.9 481.1,1213.9 481.5,1209.2 481.9,1208.1 482.2,1207.2 482.6,1206.8 483.0,1210.0 483.4,1212.1 483.8,1210.0 484.2,1207.0 484.5,1208.2 484.9,1210.3 485.3,1211.2 485.7,1212.6 486.1,1214.6 486.5,1216.5 486.9,1217.6 487.2,1218.5 487.6,1216.0 488.0,1213.9 488.4,1213.0 488.8,1211.9 489.2,1211.2 489.6,1209.5 489.9,1205.5 490.3,1207.1 490.7,1213.7 491.1,1215.7 491.5,1214.3 491.9,1212.5 492.2,1210.5 492.6,1208.0 493.0,1207.5 493.4,1209.2 493.8,1212.7 494.2,1213.8 494.6,1212.9 494.9,1211.3 495.3,1209.7 495.7,1210.2 496.1,1213.6 496.5,1213.9 496.9,1212.7 497.2,1213.9 497.6,1216.0 498.0,1216.3 498.4,1215.0 498.8,1213.6 499.2,1213.2 499.6,1215.0 499.9,1215.1 500.3,1212.5 500.7,1209.7 501.1,1211.2 501.5,1212.2 501.9,1208.6 502.2,1202.4 502.6,1201.9 503.0,1205.6 503.4,1207.8 503.8,1209.6 504.2,1210.8 504.6,1210.6 504.9,1208.2 505.3,1207.2 505.7,1208.3 506.1,1206.9 506.5,1204.8 506.9,1207.4 507.3,1213.2 507.6,1211.4 508.0,1206.3 508.4,1202.6 508.8,1203.9 509.2,1207.6 509.6,1210.4 509.9,1210.7 510.3,1209.9 510.7,1211.1 511.1,1211.7 511.5,1209.1 511.9,1205.8 512.3,1202.8 512.6,1202.8 513.0,1204.8 513.4,1208.8 513.8,1211.5 514.2,1213.5 514.6,1213.1 514.9,1212.7 515.3,1211.4 515.7,1209.6 516.1,1209.3 516.5,1210.7 516.9,1207.9 517.3,1203.7 517.6,1203.6 518.0,1206.8 518.4,1212.0 518.8,1215.8 519.2,1217.5 519.6,1215.1 519.9,1207.9 520.3,1202.8 520.7,1203.0 521.1,1203.5 521.5,1201.8 521.9,1204.3 522.3,1207.5 522.6,1207.1 523.0,1206.7 523.4,1209.2 523.8,1214.0 524.2,1213.7 524.6,1208.3 525.0,1206.1 525.3,1208.4 525.7,1211.0 526.1,1212.0 526.5,1212.9 526.9,1214.6 527.3,1216.1 527.6,1215.5 528.0,1211.7 528.4,1209.3 528.8,1211.6 529.2,1215.5 529.6,1215.7 530.0,1215.1 530.3,1216.2 530.7,1217.3 531.1,1215.8 531.5,1211.3 531.9,1210.4 532.3,1211.7 532.6,1210.8 533.0,1206.7 533.4,1203.7 533.8,1204.3 534.2,1206.1 534.6,1209.0 535.0,1211.4 535.3,1209.8 535.7,1206.0 536.1,1205.8 536.5,1208.9 536.9,1211.1 537.3,1209.6 537.6,1206.6 538.0,1203.7 538.4,1203.6 538.8,1205.0 539.2,1206.4 539.6,1205.5 540.0,1203.8 540.3,1203.7 540.7,1205.7 541.1,1207.7 541.5,1209.6 541.9,1209.3 542.3,1208.3 542.7,1207.9 543.0,1206.7 543.4,1207.3 543.8,1207.2 544.2,1206.9 544.6,1204.2 545.0,1201.3 545.3,1201.1 545.7,1204.2 546.1,1206.1 546.5,1206.7 546.9,1208.8 547.3,1207.8 547.7,1207.3 548.0,1209.7 548.4,1209.1 548.8,1206.8 549.2,1204.7 549.6,1208.3 550.0,1209.0 550.3,1207.3 550.7,1205.7 551.1,1205.3 551.5,1207.6 551.9,1208.3 552.3,1206.5 552.7,1203.6 553.0,1203.1 553.4,1205.9 553.8,1207.8 554.2,1206.6 554.6,1204.7 555.0,1205.0 555.3,1207.6 555.7,1208.0 556.1,1205.2 556.5,1204.0 556.9,1204.3 557.3,1200.4 557.7,1198.6 558.0,1198.6 558.4,1197.5 558.8,1191.5 559.2,1185.0 559.6,1183.0 560.0,1183.8 560.4,1183.2 560.7,1181.1 561.1,1179.5 561.5,1178.8 561.9,1180.9 562.3,1185.2 562.7,1189.2 563.0,1192.6 563.4,1195.8 563.8,1199.1 564.2,1199.9 564.6,1203.6 565.0,1208.0 565.4,1210.5 565.7,1208.7 566.1,1205.3 566.5,1206.5 566.9,1209.3 567.3,1210.2 567.7,1208.9 568.0,1208.1 568.4,1208.8 568.8,1207.5 569.2,1206.1 569.6,1205.8 570.0,1205.2 570.4,1206.1 570.7,1210.4 571.1,1214.2 571.5,1212.0 571.9,1208.6 572.3,1206.7 572.7,1206.2 573.0,1205.9 573.4,1207.6 573.8,1208.9 574.2,1209.1 574.6,1209.1 575.0,1209.2 575.4,1210.3 575.7,1210.8 576.1,1210.5 576.5,1210.1 576.9,1210.4 577.3,1210.5 577.7,1211.3 578.1,1211.4 578.4,1211.6 578.8,1209.9 579.2,1207.4 579.6,1206.5 580.0,1208.5 580.4,1209.5 580.7,1209.4 581.1,1208.9 581.5,1207.0 581.9,1204.5 582.3,1204.7 582.7,1208.1 583.1,1211.7 583.4,1215.2 583.8,1216.4 584.2,1214.4 584.6,1212.1 585.0,1210.2 585.4,1207.1 585.7,1202.9 586.1,1201.7 586.5,1206.2 586.9,1209.2 587.3,1209.3 587.7,1209.8 588.1,1211.4 588.4,1211.3 588.8,1209.4 589.2,1208.5 589.6,1210.4 590.0,1212.8 590.4,1212.7 590.7,1208.7 591.1,1206.2 591.5,1205.3 591.9,1207.9 592.3,1210.8 592.7,1208.5 593.1,1205.9 593.4,1205.8 593.8,1206.3 594.2,1203.8 594.6,1202.2 595.0,1204.9 595.4,1207.4 595.8,1206.8 596.1,1204.8 596.5,1202.5 596.9,1201.5 597.3,1201.6 597.7,1200.7 598.1,1200.3 598.4,1200.8 598.8,1203.1 599.2,1205.5 599.6,1206.4 600.0,1206.9 600.4,1205.1 600.8,1202.1 601.1,1199.8 601.5,1199.5 601.9,1199.2 602.3,1198.9 602.7,1195.8 603.1,1193.3 603.4,1192.8 603.8,1193.3 604.2,1194.9 604.6,1195.3 605.0,1195.3 605.4,1194.0 605.8,1191.1 606.1,1192.5 606.5,1195.6 606.9,1196.3 607.3,1193.8 607.7,1192.0 608.1,1193.7 608.4,1196.3 608.8,1197.7 609.2,1195.0 609.6,1189.8 610.0,1186.2 610.4,1181.6 610.8,1177.9 611.1,1176.8 611.5,1173.4 611.9,1167.3 612.3,1165.1 612.7,1162.7 613.1,1160.0 613.5,1154.2 613.8,1147.8 614.2,1141.5 614.6,1133.4 615.0,1123.8 615.4,1109.3 615.8,1095.0 616.1,1082.6 616.5,1071.2 616.9,1057.9 617.3,1043.4 617.7,1027.3 618.1,1009.7 618.5,991.7 618.8,973.0 619.2,954.2 619.6,939.3 620.0,931.7 620.4,930.6 620.8,932.0 621.1,937.7 621.5,949.8 621.9,966.8 622.3,984.9 622.7,1001.9 623.1,1018.8 623.5,1035.4 623.8,1050.5 624.2,1068.8 624.6,1087.2 625.0,1101.7 625.4,1113.3 625.8,1122.5 626.1,1130.5 626.5,1137.2 626.9,1143.9 627.3,1151.0 627.7,1155.0 628.1,1155.0 628.5,1156.5 628.8,1159.3 629.2,1163.7 629.6,1168.2 630.0,1173.3 630.4,1179.0 630.8,1184.3 631.2,1185.8 631.5,1184.2 631.9,1184.7 632.3,1186.8 632.7,1186.5 633.1,1185.6 633.5,1186.6 633.8,1190.6 634.2,1191.7 634.6,1189.3 635.0,1188.2 635.4,1190.4 635.8,1193.3 636.2,1193.2 636.5,1192.9 636.9,1196.0 637.3,1201.0 637.7,1204.1 638.1,1204.1 638.5,1202.0 638.8,1201.2 639.2,1201.8 639.6,1202.5 640.0,1201.0 640.4,1198.0 640.8,1197.4 641.2,1199.3 641.5,1200.9 641.9,1200.1 642.3,1201.1 642.7,1204.5 643.1,1205.0 643.5,1202.3 643.8,1202.3 644.2,1204.0 644.6,1203.5 645.0,1202.0 645.4,1199.8 645.8,1201.4 646.2,1205.5 646.5,1207.6 646.9,1204.0 647.3,1197.6 647.7,1195.4 648.1,1198.6 648.5,1203.6 648.9,1206.4 649.2,1206.6 649.6,1204.2 650.0,1200.7 650.4,1198.9 650.8,1199.0 651.2,1199.7 651.5,1198.7 651.9,1199.9 652.3,1201.8 652.7,1202.1 653.1,1199.5 653.5,1198.0 653.9,1197.5 654.2,1198.1 654.6,1196.2 655.0,1193.4 655.4,1190.9 655.8,1189.6 656.2,1189.1 656.5,1189.5 656.9,1189.3 657.3,1186.8 657.7,1185.2 658.1,1182.0 658.5,1175.3 658.9,1170.4 659.2,1168.7 659.6,1165.2 660.0,1163.0 660.4,1162.0 660.8,1159.9 661.2,1156.2 661.5,1153.7 661.9,1154.0 662.3,1154.0 662.7,1152.6 663.1,1148.7 663.5,1147.8 663.9,1149.8 664.2,1152.6 664.6,1155.1 665.0,1158.7 665.4,1162.5 665.8,1163.4 666.2,1164.1 666.5,1165.2 666.9,1166.1 667.3,1167.1 667.7,1167.3 668.1,1168.9 668.5,1168.6 668.9,1169.6 669.2,1170.7 669.6,1170.7 670.0,1172.3 670.4,1176.5 670.8,1178.3 671.2,1174.2 671.6,1167.3 671.9,1161.7 672.3,1159.8 672.7,1160.3 673.1,1158.8 673.5,1155.2 673.9,1149.4 674.2,1140.9 674.6,1129.4 675.0,1118.4 675.4,1109.4 675.8,1101.2 676.2,1090.9 676.6,1077.8 676.9,1063.5 677.3,1050.6 677.7,1035.2 678.1,1014.5 678.5,992.5 678.9,976.1 679.2,961.4 679.6,946.5 680.0,931.5 680.4,919.4 680.8,911.6 681.2,910.1 681.6,913.3 681.9,919.9 682.3,931.5 682.7,947.0 683.1,964.5 683.5,981.8 683.9,998.3 684.2,1014.4 684.6,1034.1 685.0,1053.8 685.4,1068.5 685.8,1079.4 686.2,1091.8 686.6,1105.7 686.9,1117.6 687.3,1126.8 687.7,1134.5 688.1,1141.9 688.5,1147.5 688.9,1150.0 689.3,1154.2 689.6,1160.9 690.0,1165.5 690.4,1168.6 690.8,1170.3 691.2,1173.8 691.6,1178.7 691.9,1179.2 692.3,1178.4 692.7,1180.6 693.1,1183.7 693.5,1185.7 693.9,1186.4 694.3,1186.5 694.6,1189.1 695.0,1192.8 695.4,1194.5 695.8,1193.0 696.2,1190.6 696.6,1191.2 696.9,1194.7 697.3,1194.9 697.7,1195.5 698.1,1197.7 698.5,1199.3 698.9,1198.7 699.3,1198.6 699.6,1202.9 700.0,1208.8 700.4,1209.9 700.8,1205.5 701.2,1201.4 701.6,1199.3 701.9,1201.5 702.3,1204.2 702.7,1206.1 703.1,1208.6 703.5,1207.7 703.9,1202.8 704.3,1197.9 704.6,1199.6 705.0,1202.5 705.4,1201.0 705.8,1199.3 706.2,1202.7 706.6,1207.9 707.0,1209.4 707.3,1209.1 707.7,1208.0 708.1,1204.8 708.5,1199.6 708.9,1201.8 709.3,1208.5 709.6,1210.1 710.0,1206.8 710.4,1202.4 710.8,1199.9 711.2,1201.0 711.6,1202.9 712.0,1205.1 712.3,1208.6 712.7,1209.4 713.1,1207.9 713.5,1207.5 713.9,1206.7 714.3,1206.5 714.6,1207.6 715.0,1208.5 715.4,1205.3 715.8,1205.6 716.2,1207.9 716.6,1206.5 717.0,1201.8 717.3,1200.6 717.7,1201.6 718.1,1201.7 718.5,1201.9 718.9,1203.3 719.3,1204.9 719.6,1205.1 720.0,1203.6 720.4,1205.0 720.8,1205.6 721.2,1206.2 721.6,1206.9 722.0,1207.3 722.3,1204.4 722.7,1204.1 723.1,1203.7 723.5,1204.5 723.9,1205.9 724.3,1206.0 724.7,1206.6 725.0,1206.5 725.4,1205.9 725.8,1207.3 726.2,1206.1 726.6,1202.2 727.0,1199.3 727.3,1198.3 727.7,1199.7 728.1,1201.5 728.5,1201.0 728.9,1197.8 729.3,1194.1 729.7,1191.7 730.0,1191.2 730.4,1192.7 730.8,1193.6 731.2,1191.7 731.6,1190.0 732.0,1190.5 732.3,1192.2 732.7,1191.6 733.1,1191.9 733.5,1196.0 733.9,1198.1 734.3,1196.6 734.7,1194.9 735.0,1194.7 735.4,1196.3 735.8,1200.6 736.2,1203.7 736.6,1203.4 737.0,1201.7 737.3,1201.7 737.7,1203.3 738.1,1203.5 738.5,1200.6 738.9,1198.4 739.3,1197.1 739.7,1197.8 740.0,1201.1 740.4,1202.7 740.8,1202.1 741.2,1203.7 741.6,1205.2 742.0,1205.6 742.4,1205.3 742.7,1204.3 743.1,1204.7 743.5,1203.1 743.9,1201.1 744.3,1200.0 744.7,1201.7 745.0,1201.3 745.4,1199.2 745.8,1199.0 746.2,1202.3 746.6,1205.1 747.0,1203.8 747.4,1200.2 747.7,1197.5 748.1,1196.4 748.5,1196.2 748.9,1196.3 749.3,1199.2 749.7,1202.3 750.0,1201.7 750.4,1200.3 750.8,1200.5 751.2,1203.2 751.6,1205.1 752.0,1204.2 752.4,1199.9 752.7,1196.7 753.1,1196.1 753.5,1196.8 753.9,1198.2 754.3,1198.5 754.7,1198.9 755.0,1201.5 755.4,1204.1 755.8,1203.6 756.2,1201.4 756.6,1201.5 757.0,1202.8 757.4,1202.6 757.7,1200.0 758.1,1198.4 758.5,1198.9 758.9,1198.7 759.3,1199.4 759.7,1201.3 760.1,1202.7 760.4,1201.9 760.8,1201.2 761.2,1200.8 761.6,1201.3 762.0,1202.5 762.4,1202.5 762.7,1202.3 763.1,1199.8 763.5,1194.6 763.9,1191.0 764.3,1191.9 764.7,1197.7 765.1,1200.9 765.4,1200.3 765.8,1199.4 766.2,1199.4 766.6,1199.8 767.0,1200.5 767.4,1200.9 767.7,1202.2 768.1,1205.4 768.5,1206.3 768.9,1207.0 769.3,1210.9 769.7,1213.0 770.1,1210.7 770.4,1206.6 770.8,1201.8 771.2,1198.5 771.6,1197.4 772.0,1199.9 772.4,1202.0 772.7,1200.5 773.1,1200.7 773.5,1206.5 773.9,1209.9 774.3,1206.9 774.7,1201.9 775.1,1200.8 775.4,1200.4 775.8,1201.9 776.2,1204.5 776.6,1204.8 777.0,1201.1 777.4,1197.8 777.8,1196.4 778.1,1196.6 778.5,1196.4 778.9,1197.5 779.3,1199.0 779.7,1198.5 780.1,1197.5 780.4,1197.5 780.8,1197.5 781.2,1194.3 781.6,1187.6 782.0,1184.4 782.4,1186.6 782.8,1189.0 783.1,1189.8 783.5,1189.4 783.9,1188.6 784.3,1186.1 784.7,1184.6 785.1,1185.2 785.4,1185.0 785.8,1186.6 786.2,1190.1 786.6,1193.2 787.0,1196.1 787.4,1198.0 787.8,1199.7 788.1,1198.7 788.5,1199.5 788.9,1201.0 789.3,1202.7 789.7,1201.3 790.1,1198.0 790.4,1194.5 790.8,1198.4 791.2,1204.2 791.6,1205.4 792.0,1205.8 792.4,1208.1 792.8,1208.3 793.1,1203.9 793.5,1201.8 793.9,1202.4 794.3,1202.7 794.7,1199.8 795.1,1197.0 795.5,1198.4 795.8,1203.0 796.2,1205.2 796.6,1203.7 797.0,1199.8 797.4,1199.2 797.8,1202.1 798.1,1205.4 798.5,1205.4 798.9,1203.2 799.3,1201.7 799.7,1202.7 800.1,1204.8 800.5,1208.2 800.8,1209.2 801.2,1206.6 801.6,1206.0 802.0,1209.5 802.4,1209.7 802.8,1207.7 803.1,1206.0 803.5,1205.5 803.9,1204.8 804.3,1202.9 804.7,1200.3 805.1,1200.8 805.5,1203.1 805.8,1205.0 806.2,1205.3 806.6,1203.1 807.0,1199.4 807.4,1199.1 807.8,1201.3 808.1,1204.2 808.5,1207.0 808.9,1208.7 809.3,1205.8 809.7,1202.9 810.1,1203.4 810.5,1207.0 810.8,1206.8 811.2,1204.6 811.6,1203.3 812.0,1204.2 812.4,1205.5 812.8,1206.2 813.2,1204.0 813.5,1202.8 813.9,1203.9 814.3,1206.4 814.7,1208.2 815.1,1209.2 815.5,1208.8 815.8,1208.1 816.2,1207.8 816.6,1208.5 817.0,1207.6 817.4,1204.6 817.8,1201.2 818.2,1200.4 818.5,1200.3 818.9,1202.2 819.3,1208.1 819.7,1211.8 820.1,1211.8 820.5,1210.3 820.8,1208.2 821.2,1204.8 821.6,1203.7 822.0,1202.1 822.4,1203.7 822.8,1206.2 823.2,1208.1 823.5,1208.5 823.9,1207.0 824.3,1203.8 824.7,1201.9 825.1,1202.3 825.5,1203.3 825.8,1202.6 826.2,1202.2 826.6,1203.6 827.0,1202.6 827.4,1201.7 827.8,1201.7 828.2,1203.0 828.5,1204.0 828.9,1202.1 829.3,1200.0 829.7,1199.6 830.1,1199.7 830.5,1201.8 830.8,1206.2 831.2,1207.4 831.6,1206.9 832.0,1209.6 832.4,1209.7 832.8,1205.8 833.2,1205.0 833.5,1205.0 833.9,1203.1 834.3,1200.2 834.7,1202.6 835.1,1205.3 835.5,1206.6 835.9,1204.6 836.2,1201.0 836.6,1202.3 837.0,1205.6 837.4,1208.5 837.8,1209.6 838.2,1208.0 838.5,1205.5 838.9,1205.1 839.3,1205.0 839.7,1205.7 840.1,1205.2 840.5,1204.1 840.9,1202.5 841.2,1200.3 841.6,1200.4 842.0,1202.6 842.4,1206.3 842.8,1205.6 843.2,1200.1 843.5,1197.6 843.9,1200.0 844.3,1201.8 844.7,1204.2 845.1,1206.9 845.5,1204.2 845.9,1201.2 846.2,1202.2 846.6,1205.6 847.0,1207.2 847.4,1204.1 847.8,1200.7 848.2,1201.7 848.5,1203.0 848.9,1200.6 849.3,1201.5 849.7,1203.7 850.1,1202.5 850.5,1199.5 850.9,1197.9 851.2,1199.0 851.6,1200.2 852.0,1200.4 852.4,1200.3 852.8,1199.4 853.2,1198.4 853.6,1196.1 853.9,1193.9 854.3,1192.5 854.7,1192.8 855.1,1190.3 855.5,1184.3 855.9,1176.8 856.2,1170.1 856.6,1164.0 857.0,1162.6 857.4,1161.3 857.8,1158.1 858.2,1156.4 858.6,1156.0 858.9,1153.4 859.3,1145.8 859.7,1137.8 860.1,1135.8 860.5,1141.3 860.9,1148.1 861.2,1151.5 861.6,1151.7 862.0,1152.1 862.4,1155.1 862.8,1160.3 863.2,1165.9 863.6,1171.1 863.9,1176.0 864.3,1180.4 864.7,1181.8 865.1,1183.7 865.5,1186.1 865.9,1185.7 866.2,1182.0 866.6,1179.4 867.0,1181.4 867.4,1186.0 867.8,1188.8 868.2,1189.7 868.6,1189.8 868.9,1188.7 869.3,1188.0 869.7,1190.7 870.1,1189.6 870.5,1182.3 870.9,1174.0 871.3,1167.2 871.6,1160.8 872.0,1156.0 872.4,1150.8 872.8,1146.4 873.2,1142.9 873.6,1138.6 873.9,1130.7 874.3,1125.0 874.7,1123.0 875.1,1123.7 875.5,1121.6 875.9,1118.7 876.3,1121.4 876.6,1128.4 877.0,1135.6 877.4,1142.7 877.8,1148.0 878.2,1152.7 878.6,1159.5 878.9,1166.7 879.3,1172.0 879.7,1176.5 880.1,1180.7 880.5,1184.4 880.9,1187.1 881.3,1187.3 881.6,1189.3 882.0,1191.7 882.4,1195.1 882.8,1198.1 883.2,1199.8 883.6,1200.7 883.9,1201.1 884.3,1200.6 884.7,1200.5 885.1,1202.5 885.5,1204.2 885.9,1204.2 886.3,1202.3 886.6,1199.0 887.0,1195.6 887.4,1196.7 887.8,1201.0 888.2,1205.3 888.6,1206.0 889.0,1203.1 889.3,1201.3 889.7,1203.8 890.1,1206.1 890.5,1204.8 890.9,1200.8 891.3,1198.1 891.6,1198.0 892.0,1200.5 892.4,1205.1 892.8,1208.9 893.2,1212.2 893.6,1211.9 894.0,1208.4 894.3,1205.2 894.7,1204.9 895.1,1203.2 895.5,1199.4 895.9,1198.5 896.3,1201.6 896.6,1204.5 897.0,1202.7 897.4,1201.0 897.8,1202.7 898.2,1204.2 898.6,1204.7 899.0,1206.6 899.3,1206.5 899.7,1207.1 900.1,1206.1 900.5,1203.8 900.9,1203.1 901.3,1203.7 901.6,1204.6 902.0,1205.1 902.4,1203.0 902.8,1200.3 903.2,1200.4 903.6,1200.9 904.0,1202.5 904.3,1204.4 904.7,1205.8 905.1,1206.5 905.5,1205.5 905.9,1206.1 906.3,1208.6 906.7,1208.2 907.0,1205.6 907.4,1204.0 907.8,1203.2 908.2,1203.3 908.6,1205.1 909.0,1208.3 909.3,1206.0 909.7,1200.1 910.1,1199.1 910.5,1200.5 910.9,1199.7 911.3,1199.0 911.7,1201.3 912.0,1202.9 912.4,1205.8 912.8,1207.9 913.2,1208.3 913.6,1206.8 914.0,1206.8 914.3,1206.3 914.7,1208.5 915.1,1208.8 915.5,1206.5 915.9,1205.4 916.3,1207.3 916.7,1204.9 917.0,1198.1 917.4,1194.7 917.8,1197.4 918.2,1201.4 918.6,1204.8 919.0,1205.6 919.3,1205.1 919.7,1204.7 920.1,1204.5 920.5,1201.0 920.9,1196.8 921.3,1196.6 921.7,1199.9 922.0,1199.8 922.4,1197.9 922.8,1199.0 923.2,1201.5 923.6,1201.7 924.0,1199.5 924.4,1201.5 924.7,1205.4 925.1,1208.0 925.5,1209.5 925.9,1208.7 926.3,1204.6 926.7,1204.2 927.0,1207.9 927.4,1209.6 927.8,1206.7 928.2,1202.9 928.6,1201.9 929.0,1203.8 929.4,1203.6 929.7,1201.0 930.1,1200.1 930.5,1201.2 930.9,1204.0 931.3,1206.3 931.7,1208.9 932.0,1209.7 932.4,1209.1 932.8,1209.7 933.2,1210.1 933.6,1208.9 934.0,1206.8 934.4,1208.0 934.7,1209.7 935.1,1207.7 935.5,1205.5 935.9,1207.1 936.3,1208.6 936.7,1205.6 937.0,1203.6 937.4,1203.7 937.8,1201.0 938.2,1197.4 938.6,1197.2 939.0,1200.4 939.4,1203.3 939.7,1204.7 940.1,1201.6 940.5,1198.2 940.9,1197.9 941.3,1200.1 941.7,1203.4 942.1,1204.9 942.4,1207.6 942.8,1209.2 943.2,1209.4 943.6,1206.4 944.0,1202.4 944.4,1198.1 944.7,1198.3 945.1,1201.2 945.5,1204.3 945.9,1204.4 946.3,1202.9 946.7,1199.8 947.1,1198.9 947.4,1201.9 947.8,1205.3 948.2,1206.0 948.6,1205.6 949.0,1202.8 949.4,1200.5 949.7,1199.6 950.1,1199.2 950.5,1198.7 950.9,1198.1 951.3,1197.7 951.7,1199.8 952.1,1203.9 952.4,1204.0 952.8,1200.1 953.2,1196.6 953.6,1195.8 954.0,1198.4 954.4,1200.2 954.7,1200.5 955.1,1197.9 955.5,1198.8 955.9,1200.5 956.3,1201.2 956.7,1203.1 957.1,1202.4 957.4,1199.2 957.8,1196.4 958.2,1197.2 958.6,1197.7 959.0,1197.3 959.4,1196.0 959.8,1190.8 960.1,1186.3 960.5,1188.3 960.9,1190.5 961.3,1188.0 961.7,1185.3 962.1,1181.7 962.4,1176.7 962.8,1171.0 963.2,1170.1 963.6,1171.7 964.0,1171.0 964.4,1170.1 964.8,1171.8 965.1,1170.4 965.5,1165.5 965.9,1162.7 966.3,1164.3 966.7,1165.5 967.1,1166.6 967.4,1165.5 967.8,1162.3 968.2,1160.6 968.6,1159.5 969.0,1156.2 969.4,1153.9 969.8,1156.0 970.1,1157.2 970.5,1156.7 970.9,1156.7 971.3,1156.3 971.7,1156.7 972.1,1156.5 972.4,1153.7 972.8,1152.8 973.2,1155.1 973.6,1157.7 974.0,1160.0 974.4,1158.7 974.8,1156.8 975.1,1157.4 975.5,1159.8 975.9,1165.0 976.3,1167.5 976.7,1168.3 977.1,1167.4 977.5,1165.3 977.8,1163.6 978.2,1163.7 978.6,1161.3 979.0,1157.8 979.4,1157.0 979.8,1159.7 980.1,1158.7 980.5,1155.3 980.9,1154.1 981.3,1157.5 981.7,1160.1 982.1,1161.3 982.5,1160.6 982.8,1160.6 983.2,1161.4 983.6,1160.9 984.0,1163.4 984.4,1170.1 984.8,1176.8 985.1,1180.2 985.5,1180.5 985.9,1181.3 986.3,1182.8 986.7,1183.9 987.1,1185.3 987.5,1187.0 987.8,1187.8 988.2,1189.8 988.6,1192.0 989.0,1191.3 989.4,1189.9 989.8,1190.1 990.1,1189.4 990.5,1187.3 990.9,1183.0 991.3,1179.5 991.7,1179.2 992.1,1182.3 992.5,1183.0 992.8,1179.5 993.2,1173.6 993.6,1168.2 994.0,1164.1 994.4,1160.8 994.8,1156.8 995.2,1154.9 995.5,1157.0 995.9,1158.7 996.3,1158.7 996.7,1158.6 997.1,1160.6 997.5,1164.2 997.8,1167.0 998.2,1168.6 998.6,1171.8 999.0,1176.5 999.4,1180.8 999.8,1180.9 1000.2,1181.9 1000.5,1185.3 1000.9,1189.6 1001.3,1193.8 1001.7,1197.9 1002.1,1196.6 1002.5,1193.5 1002.8,1195.4 1003.2,1197.2 1003.6,1196.8 1004.0,1198.1" fill="none" stroke="#ee3b3b" stroke-width="1.2" stroke-linejoin="round"/>
</g>
<rect x="138.25" y="889.0" width="865.75" height="697.85" fill="none" stroke="#000" stroke-width="5.7"/>
<path d="M128.90 889.00H135.40M120.40 942.68H135.40M128.90 996.36H135.40M120.40 1050.04H135.40M128.90 1103.72H135.40M120.40 1157.40H135.40M128.90 1211.08H135.40M120.40 1264.77H135.40M128.90 1318.45H135.40M120.40 1372.13H135.40M128.90 1425.81H135.40M120.40 1479.49H135.40M128.90 1533.17H135.40M120.40 1586.85H135.40M138.25 1589.70V1603.70M234.44 1589.70V1595.20M330.64 1589.70V1603.70M426.83 1589.70V1595.20M523.03 1589.70V1603.70M619.22 1589.70V1595.20M715.42 1589.70V1603.70M811.61 1589.70V1595.20M907.81 1589.70V1603.70M1004.00 1589.70V1595.20" stroke="#000" stroke-width="5.7" fill="none"/>
<text x="135.45" y="1647" font-family="Liberation Sans, sans-serif" font-size="45.5" text-anchor="middle">10</text>
<text x="327.84" y="1647" font-family="Liberation Sans, sans-serif" font-size="45.5" text-anchor="middle">20</text>
<text x="520.23" y="1647" font-family="Liberation Sans, sans-serif" font-size="45.5" text-anchor="middle">30</text>
<text x="712.62" y="1647" font-family="Liberation Sans, sans-serif" font-size="45.5" text-anchor="middle">40</text>
<text x="905.01" y="1647" font-family="Liberation Sans, sans-serif" font-size="45.5" text-anchor="middle">50</text>
<text x="452" y="1701" font-family="Liberation Sans, sans-serif" font-size="59">2<tspan font-family="Liberation Serif, serif">θ</tspan> Degree</text>
<text transform="translate(108,1407.4) rotate(-90)" font-family="Liberation Sans, sans-serif" font-size="59">Intensity(a.u)</text>
<text x="157.6" y="1212.5" font-family="Liberation Sans, sans-serif" font-size="59">After</text>
<text x="168.3" y="1447.8" font-family="Liberation Sans, sans-serif" font-size="59">Before</text>
<text x="527.9" y="955.3" font-family="Liberation Sans, sans-serif" font-size="60">(b)</text>
</svg>
</body></html>
